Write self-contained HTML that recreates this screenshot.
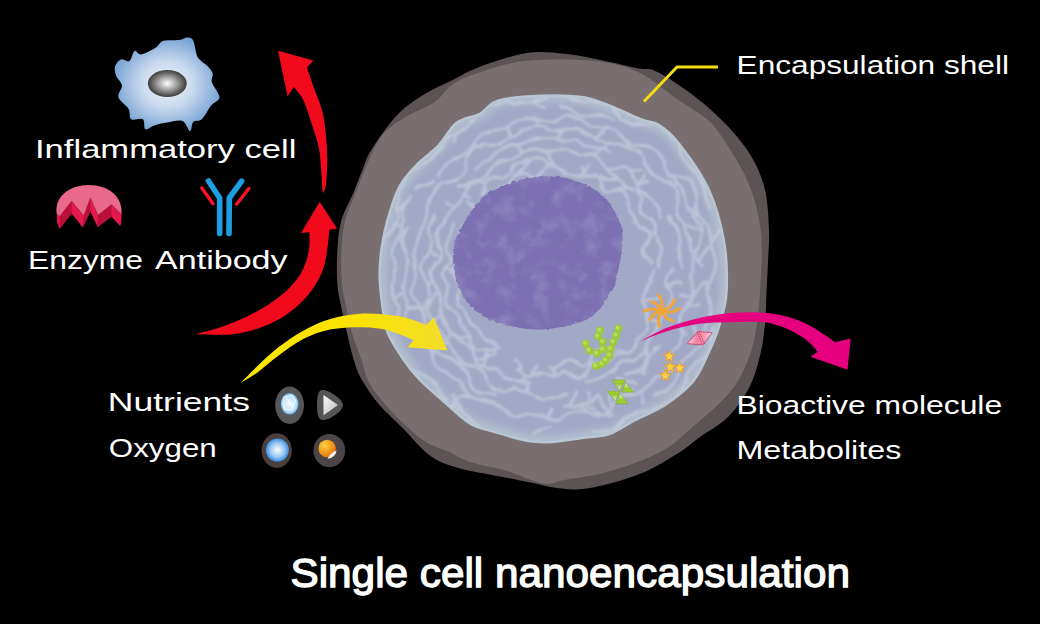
<!DOCTYPE html>
<html><head><meta charset="utf-8">
<style>
html,body{margin:0;padding:0;background:#000;}
body{width:1040px;height:624px;overflow:hidden;position:relative;}
svg{position:absolute;left:0;top:0;}
text{font-family:"Liberation Sans",sans-serif;fill:#fff;}
</style></head>
<body>
<svg width="1040" height="624" viewBox="0 0 1040 624">
<defs>
  <radialGradient id="icell" cx="0.5" cy="0.5" r="0.55">
    <stop offset="0" stop-color="#f4f7fb"/>
    <stop offset="0.45" stop-color="#c9d9ee"/>
    <stop offset="1" stop-color="#6e9dd2"/>
  </radialGradient>
  <radialGradient id="inuc" cx="0.5" cy="0.5" r="0.5">
    <stop offset="0" stop-color="#ffffff"/>
    <stop offset="1" stop-color="#3c3c3c"/>
  </radialGradient>

  <radialGradient id="crys" cx="0.5" cy="0.5" r="0.55">
    <stop offset="0" stop-color="#f4f9fd"/>
    <stop offset="0.7" stop-color="#c0e0f8"/>
    <stop offset="1" stop-color="#2a90e2"/>
  </radialGradient>
  <linearGradient id="play" x1="0" y1="0" x2="1" y2="1">
    <stop offset="0" stop-color="#ffffff"/>
    <stop offset="1" stop-color="#b8b8b8"/>
  </linearGradient>
  <radialGradient id="oxy" cx="0.5" cy="0.5" r="0.5">
    <stop offset="0" stop-color="#ffffff"/>
    <stop offset="0.6" stop-color="#9ec8f2"/>
    <stop offset="1" stop-color="#3a8ee0"/>
  </radialGradient>
  <radialGradient id="org" cx="0.35" cy="0.3" r="0.7">
    <stop offset="0" stop-color="#ffd040"/>
    <stop offset="1" stop-color="#e8780c"/>
  </radialGradient>
  <filter id="soft" x="-5%" y="-5%" width="110%" height="110%"><feGaussianBlur stdDeviation="1"/></filter>
  <filter id="soft2" x="-10%" y="-10%" width="120%" height="120%"><feGaussianBlur stdDeviation="3"/></filter>
  <linearGradient id="ygrad" gradientUnits="userSpaceOnUse" x1="240" y1="0" x2="450" y2="0">
    <stop offset="0" stop-color="#ffe600"/>
    <stop offset="0.5" stop-color="#fbe300"/>
    <stop offset="1" stop-color="#f2dc2a"/>
  </linearGradient>
  <filter id="rough" x="-5%" y="-5%" width="110%" height="110%">
    <feTurbulence type="fractalNoise" baseFrequency="0.25" numOctaves="2" seed="3" result="n"/>
    <feDisplacementMap in="SourceGraphic" in2="n" scale="3.5" xChannelSelector="R" yChannelSelector="G"/>
  </filter>
  <filter id="mottle" x="0" y="0" width="100%" height="100%">
    <feTurbulence type="fractalNoise" baseFrequency="0.06" numOctaves="3" seed="5" result="n"/>
    <feColorMatrix in="n" type="matrix" values="0 0 0 0 0.57  0 0 0 0 0.53  0 0 0 0 0.75  0 0 0 2.2 -1.0" result="m"/>
    <feComposite in="m" in2="SourceGraphic" operator="in"/>
  </filter>
  <linearGradient id="gdn" x1="0" y1="0" x2="0" y2="1">
    <stop offset="0" stop-color="#a8d43a"/><stop offset="0.35" stop-color="#98c828"/><stop offset="1" stop-color="#eef3dc"/>
  </linearGradient>
  <linearGradient id="gup" x1="0" y1="0" x2="0" y2="1">
    <stop offset="0" stop-color="#eef3dc"/><stop offset="0.65" stop-color="#98c828"/><stop offset="1" stop-color="#a8d43a"/>
  </linearGradient>
  <filter id="vsoft" x="-5%" y="-5%" width="110%" height="110%">
    <feTurbulence type="fractalNoise" baseFrequency="0.08" numOctaves="2" seed="9" result="n"/>
    <feDisplacementMap in="SourceGraphic" in2="n" scale="6" xChannelSelector="R" yChannelSelector="G" result="d"/>
    <feGaussianBlur in="d" stdDeviation="0.9"/>
  </filter>
  <linearGradient id="dia" x1="0" y1="0" x2="1" y2="0">
    <stop offset="0" stop-color="#fbd0dc"/><stop offset="0.4" stop-color="#ee7f9c"/><stop offset="0.7" stop-color="#f59ab0"/><stop offset="1" stop-color="#fde0e8"/>
  </linearGradient>
</defs>

<path fill="#5c5354" d="M398.3,113.8 C407.3,104.5 416.3,99.3 425.3,93.7 C434.3,88.1 443.1,84.7 452.2,80.2 C461.3,75.7 467.5,71.2 480.0,66.7 C492.5,62.2 512.8,55.1 527.0,53.0 C541.2,50.9 552.2,52.5 565.0,53.8 C577.8,55.1 591.8,58.3 604.0,60.8 C616.2,63.2 630.2,66.9 638.5,68.5 C646.8,70.1 647.6,67.9 654.0,70.4 C660.4,73.0 668.0,77.7 677.0,83.8 C686.0,89.9 698.1,98.7 707.7,107.0 C717.3,115.3 726.9,124.8 734.6,133.8 C742.3,142.8 748.7,151.2 753.8,160.8 C758.9,170.4 762.9,180.0 765.4,191.5 C767.9,203.0 768.5,218.6 769.0,230.0 C769.5,241.4 768.5,249.7 768.1,260.0 C767.7,270.3 767.0,281.3 766.5,292.0 C766.0,302.7 766.1,313.3 765.0,324.0 C763.9,334.7 762.7,345.3 760.0,356.0 C757.3,366.7 754.3,377.8 749.0,388.0 C743.7,398.2 736.2,408.8 728.0,417.0 C719.8,425.2 708.0,431.2 700.0,437.0 C692.0,442.8 689.2,446.2 680.0,452.0 C670.8,457.8 656.3,466.8 644.6,472.0 C632.9,477.2 620.8,480.6 610.0,483.5 C599.2,486.4 588.8,488.4 580.0,489.2 C571.2,489.9 565.5,489.1 557.0,488.0 C548.5,486.9 539.6,484.4 529.2,482.3 C518.8,480.2 506.1,477.7 494.6,475.4 C483.1,473.1 470.6,471.7 460.0,468.5 C449.4,465.3 440.2,462.8 430.8,456.2 C421.4,449.6 412.5,437.9 403.8,429.2 C395.1,420.5 385.9,412.5 378.8,404.2 C371.8,395.9 365.7,386.6 361.5,379.2 C357.3,371.8 356.2,367.7 353.8,360.0 C351.4,352.3 349.1,342.0 347.0,333.0 C344.9,324.0 342.6,314.3 341.0,306.0 C339.4,297.7 337.9,292.0 337.3,283.0 C336.7,274.0 336.7,262.2 337.3,252.0 C337.9,241.8 338.3,231.4 341.0,221.5 C343.7,211.6 349.9,201.0 353.5,192.4 C357.1,183.8 359.4,177.1 362.4,170.0 C365.4,162.9 365.4,159.1 371.4,149.7 C377.4,140.3 389.3,123.1 398.3,113.8 Z"/>
<path fill="#7a6f70" d="M407.3,116.0 C415.5,111.1 426.7,107.8 434.2,102.6 C441.7,97.4 444.6,89.8 452.2,84.7 C459.8,79.7 467.5,76.3 480.0,72.3 C492.5,68.3 508.3,62.7 527.0,60.8 C545.7,58.9 573.4,58.9 592.0,60.8 C610.6,62.7 624.3,65.9 638.5,72.3 C652.7,78.7 666.1,91.5 677.0,99.0 C687.9,106.5 697.3,111.8 704.0,117.0 C710.7,122.2 711.7,123.0 717.0,130.0 C722.3,137.0 730.7,149.9 736.0,159.0 C741.3,168.1 745.2,175.0 749.0,184.6 C752.8,194.2 756.5,205.8 758.6,216.7 C760.7,227.6 761.6,237.4 761.8,250.0 C762.0,262.6 760.8,279.7 760.0,292.0 C759.2,304.3 758.6,313.8 757.0,324.0 C755.4,334.2 753.7,343.4 750.5,353.0 C747.3,362.6 743.0,373.3 737.7,381.8 C732.4,390.3 726.0,396.7 718.5,404.2 C711.0,411.7 701.3,419.4 692.8,426.7 C684.3,433.9 677.7,441.5 667.7,447.7 C657.7,453.9 644.5,459.4 633.0,463.8 C621.5,468.2 610.0,471.5 598.5,474.2 C587.0,476.9 573.1,478.4 563.9,480.0 C554.6,481.6 552.6,485.0 543.0,483.5 C533.4,482.0 518.4,474.4 506.2,470.8 C494.0,467.2 479.4,465.1 470.0,462.0 C460.6,458.9 457.2,455.5 450.0,452.3 C442.8,449.1 433.9,446.9 426.9,442.7 C419.8,438.5 414.4,433.4 407.7,427.3 C401.0,421.2 392.9,413.4 386.5,406.0 C380.1,398.6 373.4,390.7 369.2,383.0 C365.0,375.3 364.4,368.3 361.5,360.0 C358.6,351.7 354.6,342.0 352.0,333.0 C349.4,324.0 347.7,314.3 346.0,306.0 C344.3,297.7 342.8,292.0 342.0,283.0 C341.2,274.0 341.0,262.2 341.5,252.0 C342.0,241.8 342.6,231.4 345.0,221.5 C347.4,211.6 352.4,201.0 355.7,192.4 C359.0,183.8 361.7,177.1 364.7,170.0 C367.7,162.9 370.3,156.1 373.7,149.7 C377.1,143.3 379.3,137.4 384.9,131.8 C390.5,126.2 399.1,120.9 407.3,116.0 Z"/>
<clipPath id="cclip"><path d="M393.8,200.0 C397.0,190.7 398.7,187.3 402.8,181.2 C406.9,175.1 412.5,169.2 418.5,163.2 C424.5,157.2 432.3,152.0 438.7,145.3 C445.1,138.6 449.8,128.1 456.7,122.8 C463.6,117.5 472.0,117.8 480.0,113.8 C488.0,109.8 487.7,101.8 504.6,99.0 C521.5,96.2 558.9,93.7 581.5,97.0 C604.1,100.3 627.1,114.3 640.0,119.0 C652.9,123.7 652.6,121.0 659.0,125.0 C665.4,129.0 670.2,132.3 678.5,143.0 C686.8,153.7 700.9,172.6 708.5,189.0 C716.1,205.4 721.0,224.3 724.0,241.5 C727.0,258.7 727.2,278.1 726.5,292.0 C725.8,305.9 722.5,314.8 719.5,325.0 C716.5,335.2 713.0,343.5 708.5,353.0 C704.0,362.5 700.0,373.1 692.8,381.8 C685.5,390.5 674.6,398.6 665.0,405.0 C655.4,411.4 644.6,415.2 635.4,420.0 C626.2,424.8 618.1,430.9 610.0,433.8 C601.9,436.7 596.6,435.9 587.0,437.3 C577.4,438.7 562.3,441.4 552.3,442.0 C542.3,442.6 536.4,442.4 527.0,440.8 C517.6,439.2 505.2,435.1 495.7,432.2 C486.2,429.3 479.2,429.1 470.0,423.5 C460.8,417.9 448.9,405.9 440.4,398.5 C431.9,391.1 425.3,385.6 419.2,379.2 C413.1,372.8 409.0,367.6 403.8,360.0 C398.6,352.4 391.4,341.2 388.0,333.5 C384.6,325.8 384.9,323.8 383.5,314.0 C382.1,304.2 379.6,287.8 379.6,275.0 C379.6,262.2 381.1,249.5 383.5,237.0 C385.9,224.5 390.6,209.3 393.8,200.0 Z"/></clipPath>
<path fill="#a2a9c7" d="M393.8,200.0 C397.0,190.7 398.7,187.3 402.8,181.2 C406.9,175.1 412.5,169.2 418.5,163.2 C424.5,157.2 432.3,152.0 438.7,145.3 C445.1,138.6 449.8,128.1 456.7,122.8 C463.6,117.5 472.0,117.8 480.0,113.8 C488.0,109.8 487.7,101.8 504.6,99.0 C521.5,96.2 558.9,93.7 581.5,97.0 C604.1,100.3 627.1,114.3 640.0,119.0 C652.9,123.7 652.6,121.0 659.0,125.0 C665.4,129.0 670.2,132.3 678.5,143.0 C686.8,153.7 700.9,172.6 708.5,189.0 C716.1,205.4 721.0,224.3 724.0,241.5 C727.0,258.7 727.2,278.1 726.5,292.0 C725.8,305.9 722.5,314.8 719.5,325.0 C716.5,335.2 713.0,343.5 708.5,353.0 C704.0,362.5 700.0,373.1 692.8,381.8 C685.5,390.5 674.6,398.6 665.0,405.0 C655.4,411.4 644.6,415.2 635.4,420.0 C626.2,424.8 618.1,430.9 610.0,433.8 C601.9,436.7 596.6,435.9 587.0,437.3 C577.4,438.7 562.3,441.4 552.3,442.0 C542.3,442.6 536.4,442.4 527.0,440.8 C517.6,439.2 505.2,435.1 495.7,432.2 C486.2,429.3 479.2,429.1 470.0,423.5 C460.8,417.9 448.9,405.9 440.4,398.5 C431.9,391.1 425.3,385.6 419.2,379.2 C413.1,372.8 409.0,367.6 403.8,360.0 C398.6,352.4 391.4,341.2 388.0,333.5 C384.6,325.8 384.9,323.8 383.5,314.0 C382.1,304.2 379.6,287.8 379.6,275.0 C379.6,262.2 381.1,249.5 383.5,237.0 C385.9,224.5 390.6,209.3 393.8,200.0 Z"/>
<path clip-path="url(#cclip)" fill="none" stroke="#b8c4d0" stroke-opacity="0.7" stroke-width="14" filter="url(#soft2)" d="M393.8,200.0 C397.0,190.7 398.7,187.3 402.8,181.2 C406.9,175.1 412.5,169.2 418.5,163.2 C424.5,157.2 432.3,152.0 438.7,145.3 C445.1,138.6 449.8,128.1 456.7,122.8 C463.6,117.5 472.0,117.8 480.0,113.8 C488.0,109.8 487.7,101.8 504.6,99.0 C521.5,96.2 558.9,93.7 581.5,97.0 C604.1,100.3 627.1,114.3 640.0,119.0 C652.9,123.7 652.6,121.0 659.0,125.0 C665.4,129.0 670.2,132.3 678.5,143.0 C686.8,153.7 700.9,172.6 708.5,189.0 C716.1,205.4 721.0,224.3 724.0,241.5 C727.0,258.7 727.2,278.1 726.5,292.0 C725.8,305.9 722.5,314.8 719.5,325.0 C716.5,335.2 713.0,343.5 708.5,353.0 C704.0,362.5 700.0,373.1 692.8,381.8 C685.5,390.5 674.6,398.6 665.0,405.0 C655.4,411.4 644.6,415.2 635.4,420.0 C626.2,424.8 618.1,430.9 610.0,433.8 C601.9,436.7 596.6,435.9 587.0,437.3 C577.4,438.7 562.3,441.4 552.3,442.0 C542.3,442.6 536.4,442.4 527.0,440.8 C517.6,439.2 505.2,435.1 495.7,432.2 C486.2,429.3 479.2,429.1 470.0,423.5 C460.8,417.9 448.9,405.9 440.4,398.5 C431.9,391.1 425.3,385.6 419.2,379.2 C413.1,372.8 409.0,367.6 403.8,360.0 C398.6,352.4 391.4,341.2 388.0,333.5 C384.6,325.8 384.9,323.8 383.5,314.0 C382.1,304.2 379.6,287.8 379.6,275.0 C379.6,262.2 381.1,249.5 383.5,237.0 C385.9,224.5 390.6,209.3 393.8,200.0 Z"/>
<path clip-path="url(#cclip)" fill="none" stroke="#d4dce6" stroke-opacity="0.5" stroke-width="3" filter="url(#vsoft)" d="M654.7,268.0 C654.6,268.7 654.4,270.7 654.0,272.0 C653.6,273.3 652.9,274.6 652.4,275.8 C651.9,277.1 651.4,278.3 650.9,279.6 C650.4,280.8 650.1,282.1 649.6,283.3 C649.1,284.5 648.5,285.7 647.9,286.9 C647.3,288.0 646.5,289.2 645.9,290.3 C645.2,291.4 644.4,292.5 644.0,293.7 C643.6,294.8 643.3,296.0 643.4,297.4 C643.4,298.7 643.9,300.2 644.4,301.7 C644.9,303.3 646.1,305.9 646.4,306.7 M611.4,348.4 C610.7,348.5 608.8,349.3 607.5,349.5 C606.1,349.8 604.6,349.8 603.1,349.8 C601.7,349.9 600.1,349.6 598.8,349.8 C597.5,350.0 596.3,350.3 595.3,351.1 C594.3,351.8 593.6,353.0 592.8,354.3 C592.0,355.6 591.4,357.4 590.7,359.0 C589.9,360.5 589.2,362.4 588.2,363.5 C587.2,364.6 586.1,365.5 584.8,365.8 C583.5,366.0 581.9,365.6 580.4,365.0 C578.8,364.5 577.2,363.3 575.7,362.4 C574.2,361.6 572.7,360.5 571.3,360.0 C570.0,359.6 568.8,359.6 567.6,359.9 C566.4,360.2 565.3,361.0 564.1,361.8 C562.9,362.5 561.8,363.7 560.6,364.4 C559.4,365.2 558.1,366.0 556.9,366.4 C555.6,366.8 554.3,366.8 553.0,366.8 C551.7,366.8 549.8,366.3 549.1,366.2 M497.2,344.7 C496.6,344.5 494.9,343.8 493.6,343.4 C492.3,342.9 490.9,342.6 489.7,342.1 C488.5,341.6 487.2,341.1 486.2,340.3 C485.2,339.5 484.4,338.4 483.7,337.3 C483.0,336.2 482.6,334.8 481.9,333.7 C481.3,332.6 480.7,331.4 479.9,330.4 C479.1,329.5 478.1,328.7 477.0,327.9 C476.0,327.1 474.7,326.5 473.6,325.7 C472.5,324.9 471.4,324.1 470.5,323.1 C469.7,322.1 469.1,320.9 468.5,319.8 C468.0,318.6 467.8,317.2 467.4,315.9 C467.1,314.7 466.8,313.3 466.3,312.2 C465.7,311.0 464.5,309.5 464.2,309.0 M464.2,309.0 C463.6,308.5 462.0,307.1 461.0,306.1 C460.1,305.1 459.0,304.1 458.3,302.9 C457.6,301.8 457.2,300.5 457.1,299.2 C457.0,297.8 457.4,296.3 457.7,294.9 C458.0,293.4 458.7,291.9 459.1,290.6 C459.4,289.2 459.8,287.8 459.7,286.6 C459.6,285.3 459.2,284.1 458.6,283.0 C458.0,281.8 456.8,280.7 456.0,279.5 C455.2,278.3 454.1,277.1 453.5,275.8 C453.0,274.6 452.6,273.2 452.7,271.9 C452.8,270.6 453.4,269.3 454.0,268.0 C454.6,266.7 455.7,265.4 456.5,264.2 C457.3,263.0 458.1,261.8 458.6,260.6 C459.0,259.4 459.2,258.2 459.2,256.9 C459.3,255.7 458.8,253.7 458.8,253.1 M458.8,253.1 C458.7,252.4 458.3,250.4 458.2,249.1 C458.2,247.9 458.3,246.6 458.5,245.3 C458.8,244.1 459.3,242.9 459.7,241.7 C460.2,240.5 460.8,239.4 461.1,238.1 C461.4,236.9 461.7,235.7 461.8,234.4 C462.0,233.1 461.9,231.7 462.1,230.3 C462.2,229.0 462.3,227.6 462.8,226.4 C463.3,225.2 464.0,224.1 465.0,223.2 C466.0,222.2 467.3,221.5 468.7,220.8 C470.0,220.1 471.8,219.7 473.1,219.0 C474.4,218.4 475.6,217.8 476.5,216.9 C477.3,215.9 477.6,214.8 477.9,213.4 C478.1,212.1 477.9,210.4 478.0,208.9 C478.0,207.3 477.9,205.5 478.2,204.2 C478.6,202.8 479.8,201.2 480.1,200.6 M480.1,200.6 C480.7,200.3 482.5,199.3 483.9,198.9 C485.3,198.5 487.3,198.7 488.7,198.4 C490.1,198.2 491.4,197.8 492.6,197.2 C493.7,196.7 494.7,196.0 495.5,195.1 C496.3,194.2 497.0,193.0 497.6,191.8 C498.3,190.7 498.8,189.1 499.6,188.1 C500.5,187.1 501.6,186.5 502.7,185.9 C503.7,185.2 504.9,184.7 506.0,184.1 C507.1,183.5 508.3,183.1 509.4,182.4 C510.4,181.6 511.4,180.8 512.3,179.8 C513.3,178.7 514.0,177.2 514.9,176.1 C515.9,175.0 516.9,173.9 518.1,173.3 C519.3,172.7 520.6,172.5 522.0,172.5 C523.4,172.6 525.7,173.5 526.4,173.7 M526.4,173.7 C527.2,174.2 529.6,175.7 531.0,176.3 C532.4,176.9 533.7,177.4 535.0,177.3 C536.2,177.2 537.3,176.6 538.4,175.6 C539.5,174.7 540.5,173.1 541.6,171.7 C542.7,170.4 543.9,168.6 545.1,167.5 C546.3,166.4 548.3,165.6 549.0,165.2 M549.0,165.2 C549.6,165.3 551.7,165.2 553.0,165.7 C554.3,166.2 555.6,167.4 556.9,168.3 C558.2,169.3 559.4,170.6 560.6,171.5 C561.8,172.4 563.0,173.1 564.2,173.7 C565.4,174.3 566.5,174.5 567.8,174.8 C569.0,175.1 570.2,175.1 571.4,175.3 C572.7,175.5 573.9,175.7 575.1,175.9 C576.4,176.1 577.6,176.3 578.8,176.4 C580.1,176.5 582.1,176.5 582.7,176.5 M582.7,176.5 C583.4,176.4 585.5,176.0 587.0,175.8 C588.5,175.5 590.1,175.0 591.5,175.0 C593.0,174.9 594.5,174.9 595.7,175.4 C596.9,175.9 598.0,176.9 598.8,178.2 C599.6,179.5 600.0,181.5 600.5,183.2 C601.0,184.8 601.3,186.8 601.9,188.2 C602.5,189.6 603.1,190.8 604.1,191.5 C605.1,192.2 606.5,192.3 608.0,192.3 C609.5,192.4 611.3,192.0 613.1,191.8 C614.9,191.6 616.9,191.1 618.7,191.1 C620.4,191.1 622.2,191.1 623.6,191.7 C624.9,192.2 625.9,193.2 626.7,194.3 C627.5,195.4 627.8,197.0 628.2,198.5 C628.6,200.0 628.6,201.7 628.9,203.2 C629.2,204.7 629.4,206.1 629.8,207.5 C630.2,208.8 630.6,210.0 631.1,211.3 C631.6,212.5 632.1,213.6 632.6,214.8 C633.1,216.0 633.7,217.8 634.0,218.4 M634.0,218.4 C634.2,218.9 634.9,220.7 635.6,221.8 C636.2,222.8 637.0,223.8 638.1,224.7 C639.1,225.5 640.5,226.2 641.9,227.0 C643.3,227.8 645.1,228.4 646.4,229.3 C647.7,230.2 649.1,231.1 649.8,232.3 C650.5,233.4 650.9,234.8 650.7,236.3 C650.4,237.7 649.5,239.4 648.6,241.0 C647.7,242.6 646.1,244.4 645.1,245.9 C644.1,247.4 642.9,248.9 642.5,250.2 C642.1,251.5 642.1,252.7 642.6,253.8 C643.2,254.9 644.5,255.9 645.8,257.0 C647.0,258.1 648.8,259.2 650.1,260.4 C651.4,261.5 652.9,263.4 653.5,264.1 M649.2,312.4 C648.9,313.0 647.6,314.6 647.2,316.0 C646.8,317.4 647.0,319.0 647.0,320.6 C647.0,322.2 647.2,324.1 647.0,325.6 C646.8,327.2 646.4,328.7 645.7,329.9 C645.0,331.2 643.9,332.2 642.9,333.3 C641.9,334.4 640.7,335.3 639.8,336.4 C638.8,337.5 637.9,338.6 637.2,339.9 C636.4,341.1 635.9,342.6 635.2,344.0 C634.6,345.4 634.1,347.0 633.2,348.2 C632.3,349.4 631.3,350.5 630.0,351.3 C628.7,352.1 627.1,352.5 625.5,352.9 C623.9,353.2 622.0,353.3 620.5,353.6 C618.9,353.9 617.4,354.2 616.1,354.8 C614.8,355.4 613.2,356.8 612.6,357.2 M612.6,357.2 C612.1,357.7 610.6,359.3 609.5,360.2 C608.3,361.0 607.1,361.7 605.7,362.2 C604.4,362.7 602.9,362.8 601.4,363.0 C599.9,363.2 598.3,363.0 596.9,363.2 C595.5,363.4 594.1,363.6 592.9,364.4 C591.7,365.1 590.8,366.4 589.8,367.8 C588.8,369.1 587.4,371.7 587.0,372.5 M587.0,372.5 C586.4,373.2 584.8,375.6 583.6,376.4 C582.3,377.3 580.9,377.8 579.3,377.7 C577.8,377.7 576.1,376.8 574.5,376.1 C572.9,375.5 571.3,374.4 569.7,373.7 C568.2,373.1 566.7,372.4 565.3,372.2 C563.9,372.0 562.6,372.3 561.2,372.6 C559.9,373.0 557.9,374.0 557.2,374.3 M557.2,374.3 C556.5,374.5 554.4,375.3 553.0,375.5 C551.6,375.6 550.2,375.4 548.8,375.2 C547.4,375.0 546.0,374.3 544.7,374.1 C543.3,373.8 541.9,373.5 540.5,373.6 C539.1,373.6 537.6,374.1 536.1,374.4 C534.6,374.8 533.1,375.6 531.5,375.9 C530.0,376.2 528.4,376.5 527.0,376.3 C525.6,376.1 524.2,375.5 522.9,374.7 C521.6,373.9 520.6,372.4 519.4,371.4 C518.3,370.3 516.6,368.8 516.0,368.3 M495.0,354.8 C494.6,354.3 493.5,352.2 492.3,351.5 C491.2,350.8 489.7,350.6 488.1,350.3 C486.5,350.1 484.6,350.3 482.8,350.2 C481.0,350.1 479.0,350.2 477.5,349.7 C476.0,349.1 474.8,348.2 473.9,347.1 C473.0,346.0 472.3,343.6 472.0,342.8 M472.0,342.8 C471.8,342.1 471.3,339.6 470.8,338.2 C470.3,336.8 469.7,335.5 468.9,334.3 C468.1,333.1 467.0,332.2 466.0,331.2 C465.1,330.1 463.9,329.2 463.0,328.1 C462.2,327.0 461.5,325.7 460.9,324.4 C460.4,323.1 459.9,320.9 459.7,320.2 M459.7,320.2 C459.5,319.6 459.1,317.4 458.5,316.2 C457.8,314.9 457.0,313.8 455.8,312.8 C454.7,311.8 453.0,311.0 451.6,310.0 C450.3,309.0 448.7,308.0 447.7,306.9 C446.7,305.7 445.9,304.3 445.6,302.9 C445.3,301.5 445.6,299.8 445.9,298.2 C446.1,296.6 446.9,294.9 447.3,293.4 C447.6,291.8 448.0,290.3 448.0,288.9 C447.9,287.5 447.4,286.2 446.8,284.8 C446.2,283.5 445.1,282.2 444.5,280.8 C443.9,279.5 443.1,278.1 443.1,276.7 C443.0,275.2 443.4,273.7 444.1,272.3 C444.7,270.8 446.0,269.4 447.0,268.0 C448.0,266.6 449.3,265.3 449.9,263.9 C450.5,262.6 450.8,261.3 450.7,259.9 C450.6,258.6 449.8,257.2 449.1,255.7 C448.4,254.2 447.0,251.9 446.6,251.1 M446.6,251.1 C446.3,250.4 445.3,248.0 445.2,246.6 C445.1,245.1 445.4,243.7 445.9,242.3 C446.4,240.9 447.4,239.7 448.2,238.4 C448.9,237.2 449.8,236.0 450.4,234.7 C451.0,233.3 451.3,232.0 451.7,230.6 C452.1,229.3 452.2,227.8 452.7,226.5 C453.2,225.1 454.3,223.3 454.7,222.7 M479.6,194.6 C480.2,194.3 482.4,193.6 483.3,192.6 C484.1,191.5 484.3,189.7 484.8,188.1 C485.2,186.5 485.4,184.6 486.0,183.1 C486.7,181.6 487.4,180.1 488.4,179.1 C489.5,178.1 490.7,177.4 492.3,177.2 C493.9,176.9 496.0,177.6 497.7,177.8 C499.5,178.0 501.2,178.4 502.7,178.2 C504.2,178.1 505.4,177.6 506.6,176.9 C507.7,176.1 508.5,174.8 509.4,173.5 C510.3,172.2 511.6,169.7 512.0,169.0 M512.0,169.0 C512.5,168.4 514.1,166.5 515.2,165.7 C516.4,164.8 517.8,164.3 519.1,163.8 C520.5,163.2 521.8,162.8 523.2,162.4 C524.6,161.9 526.0,161.6 527.3,161.0 C528.7,160.5 530.0,159.6 531.3,159.0 C532.7,158.4 534.1,157.8 535.5,157.7 C537.0,157.6 538.5,157.8 540.0,158.4 C541.5,158.9 543.1,160.1 544.6,161.0 C546.1,161.9 547.5,163.3 548.9,163.9 C550.3,164.6 552.3,164.7 553.0,164.9 M600.8,174.2 C601.3,174.8 602.5,176.8 603.7,177.5 C604.8,178.2 606.3,178.4 607.8,178.6 C609.3,178.8 611.2,178.4 612.8,178.5 C614.5,178.5 616.3,178.5 617.7,179.0 C619.1,179.5 620.1,180.5 621.2,181.5 C622.3,182.5 623.0,183.8 624.1,184.8 C625.1,185.8 626.8,187.1 627.4,187.5 M627.4,187.5 C628.1,187.8 630.2,188.7 631.7,189.3 C633.1,189.9 634.9,190.3 636.2,191.1 C637.6,191.8 638.9,192.7 639.7,194.0 C640.4,195.2 640.8,196.9 640.9,198.7 C641.1,200.4 640.6,202.6 640.5,204.5 C640.3,206.3 639.9,208.3 640.0,209.9 C640.2,211.4 640.6,212.7 641.4,213.8 C642.3,214.9 643.7,215.6 645.0,216.5 C646.4,217.3 648.2,217.9 649.4,218.9 C650.7,219.8 652.0,220.8 652.8,222.0 C653.5,223.2 653.8,224.7 654.0,226.2 C654.2,227.6 653.9,229.3 654.0,230.7 C654.1,232.2 654.1,233.7 654.5,235.0 C654.9,236.4 655.7,237.6 656.5,238.8 C657.3,240.1 658.5,241.2 659.4,242.5 C660.2,243.7 661.0,245.0 661.4,246.4 C661.7,247.8 661.4,250.1 661.3,250.8 M661.3,250.8 C661.1,251.6 660.4,253.9 659.9,255.3 C659.4,256.8 658.7,258.3 658.5,259.7 C658.2,261.1 658.2,262.5 658.4,263.9 C658.6,265.2 659.5,267.3 659.7,268.0 M673.6,268.0 C673.0,268.8 671.3,271.1 670.3,272.6 C669.2,274.1 668.1,275.5 667.4,277.0 C666.8,278.5 666.5,279.9 666.5,281.4 C666.4,282.9 666.9,284.5 667.4,286.1 C667.9,287.7 668.8,289.5 669.4,291.1 C670.0,292.8 670.7,294.6 670.9,296.3 C671.2,298.0 671.2,299.7 670.9,301.3 C670.7,302.8 670.0,304.3 669.3,305.8 C668.6,307.2 667.2,309.3 666.8,310.0 M666.8,310.0 C666.3,310.6 664.9,312.7 664.1,314.0 C663.3,315.4 662.5,316.8 661.8,318.2 C661.1,319.6 660.5,321.0 659.8,322.4 C659.1,323.8 658.4,325.2 657.6,326.6 C656.8,327.9 656.0,329.3 655.2,330.6 C654.3,331.9 653.4,333.2 652.5,334.5 C651.7,335.8 650.8,337.1 650.1,338.6 C649.4,340.0 649.0,341.6 648.4,343.2 C647.8,344.8 647.3,346.4 646.7,348.0 C646.0,349.5 645.3,351.2 644.5,352.5 C643.6,353.9 642.6,355.3 641.3,356.3 C640.0,357.3 638.4,358.1 636.8,358.7 C635.2,359.2 633.2,359.5 631.4,359.8 C629.6,360.1 627.6,360.2 625.9,360.5 C624.2,360.8 622.6,361.2 621.2,361.8 C619.8,362.5 618.6,363.4 617.5,364.5 C616.3,365.6 615.5,367.0 614.4,368.3 C613.4,369.5 611.8,371.5 611.3,372.1 M611.3,372.1 C610.7,372.6 609.0,374.5 607.7,375.4 C606.4,376.3 604.9,376.9 603.4,377.4 C601.9,377.8 600.2,377.9 598.6,378.1 C597.0,378.3 595.3,378.3 593.8,378.5 C592.2,378.8 590.7,379.0 589.2,379.4 C587.7,379.8 585.6,380.7 584.8,380.9 M530.0,383.7 C529.2,383.6 527.0,382.9 525.5,382.6 C524.0,382.3 522.4,382.3 520.8,382.1 C519.2,382.0 517.6,382.0 516.0,381.7 C514.5,381.5 512.9,381.3 511.4,380.8 C509.9,380.3 508.5,379.6 507.1,378.7 C505.8,377.9 504.6,376.7 503.4,375.6 C502.2,374.5 501.1,373.3 499.9,372.3 C498.6,371.3 497.5,370.3 496.1,369.6 C494.8,368.8 493.3,368.3 491.8,367.9 C490.2,367.5 488.4,367.4 486.8,367.1 C485.1,366.8 483.3,366.7 481.7,366.1 C480.2,365.5 478.7,364.8 477.6,363.7 C476.4,362.6 475.6,361.0 474.8,359.5 C474.0,358.0 473.5,356.3 472.9,354.7 C472.3,353.0 471.5,350.5 471.3,349.7 M471.3,349.7 C470.9,349.0 470.0,346.8 469.0,345.6 C468.1,344.4 466.9,343.5 465.6,342.6 C464.3,341.7 462.8,341.1 461.3,340.3 C459.8,339.5 458.1,338.8 456.7,337.9 C455.3,337.1 453.9,336.1 452.8,335.0 C451.6,333.9 450.6,332.6 449.7,331.3 C448.8,330.0 447.7,327.9 447.3,327.2 M447.3,327.2 C446.9,326.5 445.8,324.4 445.1,323.0 C444.3,321.6 443.6,320.2 442.9,318.8 C442.2,317.3 441.4,316.0 440.9,314.4 C440.4,312.9 440.1,311.3 440.0,309.7 C439.9,308.1 440.0,306.3 440.2,304.7 C440.3,303.0 440.6,301.3 440.6,299.7 C440.7,298.1 440.7,296.5 440.4,295.0 C440.1,293.5 439.1,291.4 438.8,290.7 M438.8,290.7 C438.3,290.0 436.9,288.0 435.8,286.6 C434.8,285.1 433.4,283.7 432.5,282.3 C431.6,280.8 430.7,279.2 430.4,277.7 C430.0,276.1 430.1,274.4 430.5,272.8 C431.0,271.2 432.0,269.6 433.0,268.0 C434.0,266.4 435.5,264.9 436.6,263.4 C437.8,261.9 439.1,260.5 439.8,259.1 C440.5,257.6 441.0,256.2 441.1,254.8 C441.2,253.3 440.9,251.8 440.5,250.2 C440.0,248.6 438.9,246.1 438.6,245.3 M438.6,245.3 C438.4,244.4 437.4,241.8 437.1,240.2 C436.9,238.5 436.8,236.9 437.1,235.3 C437.3,233.8 438.0,232.3 438.7,230.9 C439.4,229.4 440.4,228.1 441.3,226.8 C442.2,225.5 443.2,224.2 444.0,222.9 C444.9,221.5 445.6,220.2 446.4,218.8 C447.1,217.5 447.7,216.1 448.5,214.7 C449.2,213.4 449.9,212.0 450.8,210.7 C451.6,209.5 452.7,208.3 453.8,207.2 C454.9,206.1 456.1,205.1 457.2,204.0 C458.3,202.9 459.4,201.9 460.3,200.7 C461.3,199.5 462.0,198.2 462.7,196.9 C463.5,195.5 464.0,193.9 464.6,192.5 C465.3,191.1 465.8,189.5 466.7,188.2 C467.5,186.9 469.2,185.2 469.7,184.7 M469.7,184.7 C470.4,184.3 472.5,183.1 473.9,182.4 C475.3,181.7 476.7,180.9 478.1,180.3 C479.5,179.6 481.1,179.2 482.4,178.5 C483.8,177.8 485.0,177.0 486.1,175.9 C487.2,174.8 487.9,173.3 488.8,172.0 C489.8,170.7 490.8,169.4 491.8,168.2 C492.8,166.9 493.8,165.5 495.0,164.4 C496.2,163.4 497.5,162.4 498.9,161.8 C500.3,161.1 501.9,160.8 503.4,160.4 C504.9,160.0 507.2,159.5 508.0,159.3 M508.0,159.3 C508.8,159.2 511.1,158.9 512.6,158.5 C514.1,158.0 515.5,157.5 516.9,156.8 C518.2,156.0 519.5,154.9 520.9,154.1 C522.2,153.2 523.6,152.4 525.1,151.7 C526.5,151.0 528.0,150.2 529.5,149.8 C531.0,149.4 532.6,149.2 534.2,149.1 C535.8,149.1 538.2,149.5 539.0,149.6 M539.0,149.6 C539.8,149.7 542.2,150.2 543.7,150.4 C545.3,150.6 546.9,150.8 548.4,150.8 C549.9,150.8 551.5,150.6 553.0,150.4 C554.5,150.2 556.1,149.8 557.7,149.6 C559.2,149.4 560.8,149.2 562.3,149.3 C563.9,149.4 565.5,149.6 567.0,149.9 C568.5,150.3 570.0,150.9 571.5,151.5 C572.9,152.0 574.4,152.6 575.9,153.1 C577.3,153.5 578.8,153.9 580.3,154.2 C581.8,154.4 583.4,154.5 585.0,154.6 C586.6,154.7 588.2,154.7 589.7,154.9 C591.3,155.1 592.9,155.4 594.3,156.0 C595.7,156.6 597.1,157.5 598.4,158.5 C599.6,159.5 600.7,160.8 601.9,162.0 C603.0,163.2 604.6,165.1 605.1,165.7 M605.1,165.7 C605.7,166.2 607.4,167.8 608.8,168.4 C610.2,169.0 611.8,169.1 613.6,169.0 C615.4,169.0 617.6,168.5 619.6,168.3 C621.6,168.1 623.9,167.6 625.7,167.9 C627.5,168.1 629.1,168.8 630.4,169.8 C631.7,170.8 632.9,173.1 633.4,173.8 M633.4,173.8 C633.8,174.7 634.7,177.3 635.3,179.0 C635.8,180.8 636.1,182.7 636.7,184.3 C637.2,186.0 637.8,187.5 638.6,188.8 C639.5,190.2 640.5,191.2 641.7,192.2 C642.9,193.2 644.4,194.0 645.7,194.9 C647.1,195.8 648.6,196.6 649.9,197.6 C651.2,198.6 652.5,199.6 653.5,200.8 C654.6,202.0 655.4,203.4 656.2,204.8 C656.9,206.2 657.5,207.7 658.1,209.1 C658.7,210.6 659.2,212.1 659.8,213.6 C660.4,215.1 661.2,217.2 661.5,218.0 M659.7,345.5 C659.1,346.1 657.1,347.9 655.8,349.1 C654.6,350.3 653.3,351.4 652.1,352.7 C651.0,354.0 650.0,355.3 649.1,356.8 C648.2,358.3 647.5,360.0 646.6,361.6 C645.8,363.3 645.1,365.0 644.0,366.5 C643.0,367.9 641.9,369.4 640.5,370.4 C639.1,371.5 637.4,372.2 635.6,372.8 C633.8,373.3 631.7,373.5 629.8,373.7 C627.8,373.9 624.8,374.0 623.8,374.0 M567.9,394.1 C567.1,394.3 564.7,394.9 563.0,395.2 C561.4,395.6 559.7,396.0 558.0,396.3 C556.4,396.7 554.7,397.0 553.0,397.4 C551.3,397.7 549.6,398.1 547.9,398.3 C546.2,398.5 544.4,398.8 542.7,398.8 C541.0,398.7 539.3,398.6 537.6,398.2 C535.9,397.9 534.2,397.2 532.7,396.5 C531.1,395.7 529.5,394.6 528.0,393.6 C526.5,392.6 525.1,391.5 523.5,390.7 C522.0,389.9 520.5,389.2 518.9,388.8 C517.3,388.4 515.7,388.3 513.9,388.3 C512.2,388.3 510.3,388.8 508.3,389.0 C506.4,389.3 504.4,389.9 502.5,389.9 C500.6,390.0 498.7,390.0 497.0,389.5 C495.3,389.0 493.1,387.4 492.4,387.0 M492.4,387.0 C491.8,386.3 489.9,384.1 488.9,382.5 C487.9,380.8 487.1,378.7 486.2,377.0 C485.2,375.4 484.4,373.7 483.3,372.4 C482.2,371.0 480.9,370.0 479.5,369.1 C478.1,368.2 476.5,367.7 474.9,367.1 C473.3,366.5 470.6,365.7 469.8,365.4 M469.8,365.4 C468.9,365.1 466.2,364.4 464.6,363.6 C463.0,362.8 461.6,361.9 460.3,360.7 C459.1,359.5 458.1,358.1 457.1,356.6 C456.2,355.2 455.5,353.5 454.7,352.0 C453.9,350.4 453.2,348.8 452.3,347.3 C451.5,345.9 450.2,343.7 449.7,343.0 M449.7,343.0 C449.2,342.4 447.8,340.3 446.8,339.0 C445.7,337.7 444.6,336.4 443.6,335.1 C442.5,333.8 441.4,332.5 440.3,331.1 C439.2,329.8 438.1,328.5 437.0,327.1 C435.9,325.7 434.8,324.4 433.7,323.0 C432.6,321.6 431.4,320.2 430.5,318.7 C429.5,317.3 428.7,315.7 428.1,314.1 C427.5,312.5 427.1,310.7 426.9,309.0 C426.6,307.2 426.7,305.4 426.8,303.6 C426.9,301.8 427.4,299.0 427.5,298.1 M427.5,298.1 C427.7,297.2 428.3,294.5 428.4,292.8 C428.6,291.0 428.8,289.4 428.6,287.7 C428.4,286.1 428.0,284.5 427.4,282.9 C426.8,281.3 425.8,279.7 425.0,278.1 C424.2,276.5 423.2,274.8 422.5,273.1 C421.9,271.4 421.3,269.7 421.1,268.0 C421.0,266.3 421.2,264.5 421.8,262.8 C422.3,261.2 423.3,259.5 424.2,257.9 C425.2,256.2 426.5,254.7 427.4,253.1 C428.4,251.6 429.4,250.1 430.0,248.5 C430.6,247.0 431.0,245.4 431.1,243.7 C431.2,242.1 430.8,240.4 430.6,238.6 C430.4,236.9 429.9,235.0 429.7,233.2 C429.5,231.4 429.3,229.6 429.5,227.9 C429.7,226.1 430.0,224.5 430.6,222.9 C431.2,221.3 432.2,219.8 433.1,218.3 C434.0,216.9 435.7,214.9 436.2,214.2 M474.6,168.5 C475.3,168.1 477.4,166.8 478.8,165.8 C480.1,164.9 481.3,163.7 482.7,162.8 C484.1,161.9 485.7,161.4 487.1,160.5 C488.5,159.6 489.7,158.5 491.0,157.4 C492.4,156.3 493.6,155.1 494.9,154.0 C496.3,152.9 497.6,151.9 499.0,150.9 C500.4,149.9 501.8,148.8 503.3,148.1 C504.9,147.3 506.5,147.0 508.2,146.6 C509.9,146.2 511.6,146.1 513.3,145.8 C515.0,145.5 516.6,145.1 518.2,144.8 C519.9,144.4 521.6,144.2 523.2,143.7 C524.8,143.2 526.3,142.4 527.9,141.7 C529.5,141.0 531.0,140.2 532.7,139.5 C534.3,138.9 535.9,138.4 537.6,138.1 C539.3,137.8 541.9,137.8 542.8,137.8 M542.8,137.8 C543.6,137.9 546.2,138.2 547.9,138.5 C549.6,138.8 551.3,139.2 553.0,139.5 C554.7,139.8 556.3,140.0 558.0,140.1 C559.7,140.2 561.4,140.2 563.1,140.2 C564.7,140.2 566.4,140.1 568.1,140.2 C569.8,140.2 571.5,140.3 573.2,140.6 C574.8,140.9 576.5,141.3 578.1,141.8 C579.7,142.3 581.3,143.0 582.8,143.7 C584.4,144.3 585.9,145.0 587.5,145.6 C589.1,146.2 590.6,146.7 592.3,147.2 C593.9,147.6 595.5,147.9 597.2,148.2 C598.9,148.5 600.6,148.7 602.2,149.1 C603.9,149.5 605.6,150.0 607.1,150.6 C608.7,151.3 610.8,152.7 611.5,153.1 M668.6,214.7 C669.0,215.4 670.0,217.7 670.9,219.2 C671.7,220.6 672.8,222.0 673.8,223.4 C674.8,224.9 675.9,226.3 676.7,227.8 C677.6,229.3 678.3,230.9 678.8,232.5 C679.2,234.2 679.4,235.9 679.4,237.7 C679.4,239.4 679.0,241.2 678.8,243.0 C678.5,244.7 678.0,246.5 677.9,248.2 C677.7,249.9 677.9,252.4 678.0,253.2 M678.0,253.2 C678.2,254.0 678.6,256.4 679.2,258.1 C679.7,259.7 680.5,261.3 681.2,263.0 C681.8,264.6 682.8,267.2 683.1,268.0 M692.1,268.0 C691.9,268.9 691.4,271.6 691.3,273.4 C691.2,275.2 691.1,277.0 691.3,278.9 C691.4,280.7 691.8,282.6 692.0,284.5 C692.3,286.3 692.7,288.3 692.8,290.1 C692.9,292.0 692.9,293.9 692.6,295.8 C692.2,297.6 691.0,300.2 690.7,301.1 M690.7,301.1 C690.2,301.9 688.6,304.3 687.5,305.9 C686.4,307.5 685.0,309.0 684.0,310.6 C683.0,312.1 682.0,313.7 681.4,315.4 C680.8,317.1 680.6,318.9 680.5,320.8 C680.4,322.7 680.6,324.8 680.7,326.9 C680.8,329.0 681.1,331.2 681.1,333.2 C681.0,335.3 680.9,337.4 680.4,339.4 C680.0,341.3 679.3,343.1 678.3,344.8 C677.4,346.4 676.0,347.9 674.7,349.3 C673.4,350.7 671.0,352.5 670.2,353.2 M600.0,395.3 C599.2,395.8 597.0,397.6 595.5,398.7 C593.9,399.8 592.4,400.9 590.7,401.8 C589.1,402.7 587.4,403.6 585.7,404.2 C584.0,404.7 582.1,404.9 580.3,405.2 C578.5,405.5 576.7,405.7 574.8,405.9 C573.0,406.0 571.2,406.0 569.3,406.1 C567.5,406.2 564.8,406.4 563.9,406.5 M495.1,393.5 C494.1,393.6 490.9,393.9 488.8,393.9 C486.7,394.0 484.5,394.2 482.5,393.9 C480.5,393.5 478.6,393.0 477.0,392.1 C475.3,391.1 473.9,389.8 472.7,388.2 C471.4,386.7 470.5,384.6 469.7,382.6 C468.9,380.6 468.4,378.3 467.7,376.2 C467.0,374.1 466.6,371.9 465.7,370.2 C464.9,368.4 463.8,367.1 462.6,365.8 C461.3,364.6 459.8,363.6 458.3,362.7 C456.8,361.8 455.0,361.0 453.3,360.2 C451.6,359.4 449.7,358.6 448.0,357.7 C446.2,356.8 444.5,355.9 442.8,354.8 C441.2,353.8 439.6,352.7 438.0,351.5 C436.5,350.4 435.0,349.1 433.7,347.7 C432.3,346.4 431.0,345.0 430.0,343.4 C428.9,341.9 427.7,339.3 427.2,338.5 M427.2,338.5 C427.0,337.5 426.0,334.8 425.7,332.9 C425.4,330.9 425.4,328.9 425.3,326.9 C425.1,324.9 425.1,322.9 425.0,321.0 C424.8,319.1 424.8,317.2 424.4,315.4 C424.0,313.7 423.4,312.0 422.6,310.4 C421.7,308.8 420.5,307.3 419.4,305.7 C418.2,304.1 416.8,302.6 415.7,301.0 C414.7,299.3 413.6,297.6 413.0,295.8 C412.5,294.1 412.2,292.2 412.2,290.3 C412.2,288.4 412.6,286.5 413.0,284.6 C413.4,282.7 414.1,280.8 414.5,278.9 C414.9,277.0 415.3,275.2 415.5,273.4 C415.6,271.6 415.5,269.8 415.4,268.0 C415.2,266.2 414.7,263.5 414.6,262.6 M414.6,262.6 C414.5,261.6 414.0,258.9 413.9,257.1 C413.9,255.2 414.0,253.4 414.3,251.6 C414.6,249.8 415.1,248.0 415.7,246.3 C416.3,244.5 417.1,242.8 417.7,241.1 C418.4,239.4 419.1,237.7 419.7,236.0 C420.4,234.3 421.0,232.6 421.5,230.9 C422.1,229.2 422.6,227.5 423.2,225.8 C423.7,224.1 424.6,221.6 424.9,220.7 M424.9,220.7 C425.2,219.9 426.1,217.4 426.6,215.6 C427.2,213.9 427.7,212.2 428.2,210.5 C428.7,208.7 429.0,206.9 429.4,205.0 C429.7,203.1 429.8,201.1 430.2,199.2 C430.6,197.3 431.0,195.4 431.7,193.7 C432.4,191.9 434.1,189.7 434.6,188.9 M434.6,188.9 C435.3,188.3 437.4,186.3 439.2,185.3 C440.9,184.3 443.1,183.7 445.3,183.1 C447.4,182.4 449.7,182.1 451.8,181.6 C453.9,181.1 456.0,180.7 457.7,179.9 C459.4,179.2 460.9,178.3 462.1,177.1 C463.2,175.8 464.2,174.5 464.8,172.6 C465.4,170.7 465.3,168.1 465.7,165.8 C466.1,163.5 466.4,161.1 467.0,159.0 C467.7,156.8 468.5,154.8 469.5,153.1 C470.5,151.3 471.6,149.6 473.2,148.5 C474.7,147.5 477.8,147.1 478.7,146.8 M478.7,146.8 C479.7,146.7 482.7,146.2 484.7,146.0 C486.6,145.7 488.6,145.7 490.6,145.5 C492.5,145.2 494.4,145.1 496.1,144.6 C497.9,144.2 499.4,143.4 501.1,142.7 C502.7,142.0 504.4,141.4 506.0,140.7 C507.6,139.9 510.0,138.6 510.8,138.2 M510.8,138.2 C511.6,137.7 513.9,136.0 515.5,135.0 C517.1,134.0 518.7,133.1 520.4,132.1 C522.0,131.1 523.6,129.9 525.4,129.0 C527.1,128.2 528.8,127.3 530.6,126.8 C532.5,126.4 534.3,126.2 536.2,126.3 C538.1,126.3 540.0,126.8 541.9,127.3 C543.8,127.7 545.7,128.5 547.5,129.0 C549.4,129.5 551.2,130.1 553.0,130.3 C554.8,130.5 556.6,130.5 558.4,130.4 C560.2,130.2 562.1,129.7 563.9,129.4 C565.8,129.1 567.7,128.6 569.5,128.5 C571.4,128.4 573.3,128.3 575.1,128.7 C576.9,129.0 578.7,129.7 580.4,130.5 C582.1,131.3 583.7,132.5 585.3,133.6 C586.9,134.6 588.4,135.9 590.0,136.9 C591.6,137.9 594.0,139.1 594.7,139.5 M594.7,139.5 C595.6,139.8 598.1,140.6 599.9,141.0 C601.6,141.4 603.5,141.5 605.3,141.7 C607.2,141.9 609.1,142.0 610.9,142.3 C612.8,142.6 614.7,143.0 616.5,143.4 C618.3,143.9 620.0,144.7 621.7,145.2 C623.5,145.8 625.4,146.4 627.2,146.9 C629.0,147.5 631.9,148.3 632.8,148.6 M632.8,148.6 C633.7,149.0 636.5,149.9 638.0,151.0 C639.5,152.2 640.6,153.8 641.7,155.5 C642.8,157.1 643.6,159.1 644.4,161.0 C645.2,162.9 645.8,164.9 646.7,166.7 C647.5,168.5 648.2,170.2 649.3,171.7 C650.4,173.2 651.6,174.4 653.1,175.5 C654.6,176.6 656.4,177.3 658.3,178.1 C660.2,178.9 662.4,179.4 664.4,180.2 C666.4,181.0 668.5,181.7 670.2,182.8 C671.9,183.9 673.4,185.2 674.5,186.8 C675.6,188.4 676.3,191.3 676.7,192.2 M676.7,192.2 C676.8,193.2 677.1,196.4 677.1,198.5 C677.2,200.6 676.9,202.8 676.9,204.9 C677.0,206.9 677.0,208.8 677.3,210.7 C677.6,212.5 678.1,214.2 678.7,215.9 C679.3,217.6 680.2,219.2 680.9,220.8 C681.7,222.4 682.7,224.0 683.5,225.6 C684.2,227.2 685.3,229.7 685.7,230.6 M685.7,230.6 C686.0,231.4 687.0,234.0 687.6,235.7 C688.3,237.4 688.8,239.1 689.4,240.9 C689.9,242.6 690.4,244.4 690.9,246.2 C691.4,247.9 692.1,249.7 692.4,251.5 C692.8,253.3 693.1,255.1 693.2,257.0 C693.2,258.8 693.1,260.7 692.9,262.5 C692.7,264.3 692.2,267.1 692.1,268.0 M673.4,370.8 C672.3,371.2 669.0,372.4 666.8,373.2 C664.6,374.0 662.4,374.6 660.5,375.5 C658.5,376.3 656.8,377.3 655.2,378.5 C653.6,379.7 652.3,381.2 650.9,382.6 C649.5,384.0 648.2,385.6 646.8,386.9 C645.3,388.3 643.8,389.6 642.1,390.6 C640.4,391.6 638.5,392.4 636.6,393.1 C634.7,393.7 632.5,394.1 630.5,394.5 C628.6,395.0 626.4,395.2 624.6,395.9 C622.8,396.6 621.2,397.6 619.7,398.9 C618.2,400.2 616.9,401.9 615.5,403.5 C614.1,405.1 612.8,407.1 611.3,408.7 C609.8,410.3 608.3,412.0 606.5,413.1 C604.8,414.1 602.8,414.8 600.8,415.0 C598.7,415.2 595.3,414.3 594.2,414.2 M594.2,414.2 C593.1,413.8 589.7,412.7 587.6,412.1 C585.4,411.4 583.3,410.5 581.3,410.4 C579.3,410.2 577.5,410.6 575.7,411.1 C573.8,411.6 572.1,412.6 570.2,413.6 C568.4,414.5 566.6,415.8 564.7,416.8 C562.8,417.7 560.9,418.7 558.9,419.2 C557.0,419.7 555.0,419.8 553.0,419.7 C551.0,419.6 549.0,418.9 547.1,418.4 C545.1,417.8 543.2,416.9 541.3,416.4 C539.4,415.8 537.5,415.3 535.6,415.0 C533.7,414.8 531.7,414.9 529.7,415.1 C527.7,415.2 525.6,415.7 523.6,415.9 C521.5,416.1 519.4,416.5 517.4,416.5 C515.3,416.4 513.3,416.1 511.4,415.5 C509.5,414.8 507.8,413.6 506.1,412.4 C504.4,411.2 502.1,408.9 501.3,408.2 M501.3,408.2 C500.5,407.6 498.1,405.5 496.5,404.4 C494.8,403.3 493.2,402.4 491.3,401.8 C489.5,401.1 487.5,400.9 485.4,400.6 C483.4,400.2 481.3,400.1 479.3,399.6 C477.3,399.1 475.3,398.6 473.5,397.7 C471.7,396.8 470.0,395.8 468.5,394.4 C467.0,393.1 465.8,391.4 464.6,389.7 C463.4,388.0 462.4,386.1 461.2,384.4 C460.1,382.7 459.1,380.9 457.7,379.6 C456.3,378.2 454.6,377.3 452.8,376.4 C451.0,375.4 449.0,374.8 447.0,374.0 C445.1,373.1 443.0,372.4 441.3,371.3 C439.5,370.2 437.8,369.0 436.6,367.4 C435.3,365.9 434.4,364.0 433.6,362.1 C432.9,360.2 432.4,356.9 432.2,355.8 M432.2,355.8 C432.0,354.8 431.5,351.5 431.0,349.5 C430.4,347.6 429.8,345.8 428.7,344.1 C427.7,342.5 426.2,341.2 424.6,339.9 C423.0,338.6 420.9,337.5 419.0,336.3 C417.1,335.0 415.0,333.8 413.3,332.4 C411.6,331.0 409.8,329.5 408.8,327.7 C407.7,326.0 407.2,322.9 406.8,321.9 M406.8,321.9 C406.8,320.9 406.8,317.6 406.9,315.5 C406.9,313.3 407.3,311.2 407.4,309.1 C407.4,307.0 407.3,305.0 407.0,303.0 C406.8,301.1 406.2,299.2 405.7,297.3 C405.2,295.4 404.5,293.5 404.1,291.6 C403.7,289.7 403.3,287.7 403.3,285.7 C403.3,283.7 403.6,281.7 404.0,279.7 C404.5,277.7 405.3,275.7 406.0,273.8 C406.6,271.8 407.4,269.9 407.8,268.0 C408.3,266.1 408.5,264.2 408.4,262.3 C408.3,260.4 407.7,258.5 407.1,256.5 C406.4,254.5 405.3,252.5 404.5,250.4 C403.6,248.4 402.6,246.2 402.2,244.1 C401.8,242.0 401.6,239.9 401.9,237.9 C402.2,236.0 403.0,234.0 404.1,232.3 C405.2,230.5 407.7,228.1 408.4,227.2 M437.9,177.3 C438.4,176.4 439.7,173.8 440.6,172.0 C441.6,170.3 442.5,168.5 443.7,167.0 C444.9,165.4 446.3,164.0 447.9,162.9 C449.5,161.8 451.7,161.2 453.5,160.4 C455.3,159.5 457.1,158.7 458.9,157.8 C460.7,157.0 462.7,156.5 464.3,155.5 C466.0,154.6 467.5,153.6 468.8,152.2 C470.1,150.7 471.0,148.7 472.1,147.0 C473.3,145.3 474.6,143.7 475.8,142.1 C477.1,140.4 478.3,138.6 479.7,137.2 C481.2,135.7 482.8,134.5 484.5,133.5 C486.2,132.6 488.2,132.1 490.1,131.5 C492.0,130.9 493.9,130.3 495.8,129.8 C497.7,129.3 499.7,129.1 501.6,128.6 C503.4,128.0 505.3,127.4 507.0,126.5 C508.8,125.6 510.4,124.3 512.2,123.3 C513.9,122.3 516.7,121.0 517.6,120.5 M517.6,120.5 C518.5,120.2 521.3,118.8 523.2,118.4 C525.2,117.9 527.2,117.8 529.2,117.9 C531.2,117.9 533.3,118.5 535.4,118.9 C537.4,119.4 539.4,120.2 541.4,120.6 C543.4,121.1 545.3,121.5 547.2,121.6 C549.2,121.6 551.1,121.4 553.0,120.9 C554.9,120.5 556.9,119.6 558.9,118.9 C560.8,118.3 562.9,117.3 564.9,116.9 C566.9,116.4 569.0,116.1 571.0,116.2 C573.0,116.4 574.9,116.9 576.8,117.7 C578.7,118.5 580.5,119.7 582.3,120.8 C584.1,121.9 585.7,123.3 587.5,124.3 C589.2,125.3 591.0,126.3 592.8,126.9 C594.6,127.5 596.5,127.7 598.5,128.0 C600.5,128.2 602.5,128.1 604.6,128.2 C606.6,128.4 608.7,128.4 610.6,128.9 C612.5,129.4 615.1,130.8 616.1,131.2 M616.1,131.2 C616.8,131.9 619.2,133.8 620.6,135.2 C622.1,136.7 623.2,138.7 624.6,140.1 C626.0,141.5 627.4,142.9 629.2,143.7 C630.9,144.6 632.9,145.0 635.0,145.3 C637.1,145.6 639.7,145.3 642.0,145.5 C644.2,145.8 646.6,146.1 648.7,146.6 C650.8,147.2 652.9,147.9 654.7,149.0 C656.4,150.0 658.0,151.4 659.3,153.0 C660.6,154.6 661.5,156.6 662.4,158.6 C663.3,160.5 663.8,162.8 664.6,164.8 C665.3,166.9 666.0,168.9 666.9,170.7 C667.8,172.5 668.9,174.1 670.1,175.7 C671.3,177.2 673.6,179.2 674.3,179.9 M674.3,179.9 C675.0,180.6 677.2,182.6 678.5,184.1 C679.8,185.6 681.0,187.2 681.9,189.0 C682.8,190.7 683.5,192.7 684.0,194.6 C684.6,196.6 684.8,198.7 685.2,200.6 C685.7,202.6 686.0,204.5 686.7,206.3 C687.4,208.2 688.3,209.8 689.5,211.5 C690.6,213.1 692.1,214.6 693.6,216.1 C695.0,217.7 696.8,219.2 698.1,220.9 C699.4,222.5 700.8,224.2 701.5,226.1 C702.3,228.0 702.6,230.0 702.6,232.1 C702.5,234.2 701.9,236.4 701.2,238.5 C700.5,240.7 699.3,242.9 698.5,245.0 C697.8,247.0 697.0,249.0 696.6,251.0 C696.3,253.0 696.6,255.7 696.6,256.7 M696.6,256.7 C697.0,257.6 697.8,260.4 698.7,262.3 C699.5,264.2 701.2,267.0 701.7,268.0 M715.7,268.0 C715.3,269.0 714.2,272.2 713.3,274.3 C712.3,276.4 710.8,278.3 709.9,280.3 C709.0,282.4 708.1,284.3 707.7,286.3 C707.4,288.3 707.5,290.4 707.9,292.5 C708.2,294.7 709.1,296.9 709.7,299.2 C710.3,301.4 711.0,304.9 711.3,306.0 M711.3,306.0 C711.2,307.1 711.4,310.5 711.0,312.6 C710.5,314.7 709.6,316.6 708.7,318.6 C707.9,320.6 706.7,322.4 705.9,324.4 C705.1,326.4 704.4,328.4 703.8,330.5 C703.3,332.6 703.1,334.8 702.5,336.9 C702.0,339.1 701.6,341.3 700.8,343.3 C699.9,345.3 698.7,347.1 697.2,348.8 C695.8,350.4 693.0,352.5 692.1,353.3 M692.1,353.3 C691.2,353.9 688.2,355.8 686.6,357.3 C685.0,358.7 683.5,360.2 682.4,362.0 C681.3,363.8 680.8,366.0 680.1,368.2 C679.4,370.3 679.0,372.8 678.2,374.9 C677.4,377.1 676.5,379.2 675.3,381.1 C674.1,382.9 672.5,384.5 670.8,385.8 C669.1,387.2 667.0,388.2 665.1,389.3 C663.2,390.4 661.1,391.3 659.3,392.4 C657.4,393.6 655.0,395.6 654.1,396.2 M400.6,331.1 C400.2,330.1 398.8,327.2 398.5,325.0 C398.2,322.8 398.5,320.4 398.6,318.2 C398.7,315.9 399.1,313.6 399.0,311.4 C398.9,309.3 398.5,307.3 397.9,305.2 C397.3,303.2 396.1,301.4 395.2,299.4 C394.4,297.4 393.2,295.5 392.5,293.4 C391.9,291.4 391.5,289.2 391.5,287.1 C391.5,285.0 392.1,282.8 392.6,280.6 C393.1,278.5 394.1,276.3 394.6,274.2 C395.1,272.1 395.6,270.1 395.6,268.0 C395.7,265.9 395.0,262.8 394.9,261.8 M394.9,261.8 C394.7,260.7 393.8,257.6 393.5,255.4 C393.2,253.3 392.9,251.2 393.2,249.1 C393.4,247.0 394.2,245.0 395.1,243.0 C396.0,241.0 397.4,239.2 398.4,237.2 C399.4,235.3 400.6,233.5 401.2,231.6 C401.9,229.6 402.2,227.6 402.4,225.5 C402.5,223.4 402.1,221.2 402.1,219.0 C402.0,216.8 401.8,214.4 402.1,212.3 C402.3,210.2 402.9,208.1 403.8,206.2 C404.7,204.3 406.8,201.8 407.4,200.9 M559.4,105.4 C560.4,105.6 563.6,106.1 565.7,106.9 C567.7,107.8 569.7,109.3 571.6,110.5 C573.6,111.7 575.4,113.3 577.4,114.2 C579.3,115.2 581.2,115.9 583.2,116.2 C585.2,116.5 587.3,116.1 589.5,115.9 C591.7,115.6 594.0,114.9 596.2,114.7 C598.5,114.5 600.7,114.3 602.8,114.6 C605.0,114.9 607.0,115.7 608.9,116.6 C610.8,117.5 613.4,119.4 614.3,120.0 M688.5,177.5 C689.2,178.3 691.5,180.6 692.7,182.4 C693.9,184.2 695.0,186.0 695.6,188.1 C696.2,190.2 696.4,192.6 696.5,194.9 C696.5,197.2 696.1,199.7 696.1,202.0 C696.1,204.3 695.9,206.6 696.3,208.6 C696.7,210.7 697.5,212.5 698.6,214.3 C699.7,216.1 701.4,217.6 702.9,219.3 C704.4,221.0 706.2,222.6 707.5,224.4 C708.7,226.3 710.0,229.2 710.5,230.2 M710.5,230.2 C710.6,231.2 711.3,234.4 711.4,236.5 C711.6,238.6 711.2,240.8 711.4,242.9 C711.5,245.0 711.8,247.1 712.2,249.2 C712.7,251.2 713.5,253.2 714.1,255.3 C714.7,257.4 715.5,259.5 715.8,261.6 C716.0,263.7 715.7,266.9 715.7,268.0 M713.9,327.3 C713.6,328.5 712.8,331.7 712.4,334.0 C712.1,336.3 712.1,338.8 711.7,341.2 C711.3,343.5 711.0,345.9 710.2,348.1 C709.3,350.2 708.1,352.2 706.7,354.1 C705.2,355.9 703.3,357.4 701.4,358.9 C699.5,360.5 697.3,361.7 695.5,363.2 C693.6,364.7 691.8,366.1 690.5,367.9 C689.1,369.7 688.3,371.8 687.4,373.9 C686.4,376.1 685.8,378.5 685.0,380.8 C684.2,383.1 683.5,385.5 682.6,387.8 C681.6,390.0 680.5,392.2 679.2,394.2 C677.8,396.1 675.2,398.5 674.5,399.4 M674.5,399.4 C673.5,400.1 670.7,402.2 668.7,403.4 C666.6,404.6 664.4,405.6 662.2,406.5 C660.0,407.4 657.7,408.2 655.4,408.9 C653.0,409.6 650.7,410.1 648.3,410.6 C645.9,411.1 643.5,411.4 641.2,411.9 C638.8,412.3 636.4,412.5 634.3,413.2 C632.2,413.9 630.3,414.8 628.5,416.1 C626.6,417.3 625.0,419.0 623.3,420.6 C621.6,422.2 620.1,424.1 618.3,425.6 C616.5,427.2 614.8,428.9 612.8,430.0 C610.8,431.1 608.6,431.8 606.3,432.1 C604.1,432.4 601.6,432.0 599.2,431.9 C596.9,431.7 593.4,431.3 592.2,431.2 M479.8,426.7 C478.9,426.0 476.1,424.0 474.3,422.4 C472.5,420.9 471.0,419.1 469.3,417.5 C467.6,415.9 466.0,414.3 464.1,413.0 C462.3,411.7 460.3,410.8 458.3,409.7 C456.3,408.7 454.1,407.9 452.2,406.8 C450.3,405.6 448.3,404.4 446.7,402.8 C445.2,401.2 443.9,399.1 442.7,397.1 C441.5,395.1 440.5,392.9 439.5,390.8 C438.4,388.7 437.6,386.5 436.3,384.7 C435.1,382.8 433.8,381.1 432.1,379.7 C430.4,378.4 428.3,377.4 426.1,376.4 C423.9,375.3 421.3,374.7 418.9,373.7 C416.5,372.7 414.0,371.8 411.8,370.6 C409.7,369.3 407.7,367.8 406.1,366.1 C404.5,364.4 402.9,361.4 402.2,360.4 M379.9,247.5 C380.3,246.4 381.2,243.1 382.3,241.0 C383.4,238.9 385.2,236.9 386.8,234.9 C388.3,233.0 390.2,231.2 391.6,229.3 C393.0,227.4 394.4,225.5 395.3,223.5 C396.2,221.5 396.7,219.5 397.1,217.4 C397.5,215.2 397.5,211.8 397.6,210.7 M397.6,210.7 C397.6,209.5 397.6,206.0 397.8,203.7 C397.9,201.4 398.1,199.0 398.4,196.7 C398.7,194.4 399.2,192.1 399.7,189.9 C400.3,187.7 400.8,185.4 401.7,183.3 C402.7,181.2 403.8,179.2 405.1,177.4 C406.5,175.6 408.1,173.9 409.9,172.4 C411.7,170.9 413.7,169.6 415.8,168.3 C417.8,167.1 420.1,166.1 422.2,164.9 C424.3,163.7 426.4,162.7 428.2,161.4 C430.0,160.1 432.2,157.8 433.0,157.1 M433.0,157.1 C433.7,156.3 435.7,153.7 437.0,152.0 C438.3,150.3 439.6,148.5 440.8,146.6 C442.1,144.8 443.0,142.5 444.4,140.8 C445.8,139.2 447.6,137.8 449.4,136.6 C451.2,135.4 453.3,134.5 455.2,133.4 C457.1,132.3 458.8,131.0 460.7,129.9 C462.5,128.7 464.6,127.9 466.3,126.6 C468.0,125.2 469.5,123.4 471.0,121.7 C472.6,119.9 474.0,117.9 475.6,116.1 C477.2,114.3 479.8,111.9 480.7,111.1 M480.7,111.1 C481.6,110.4 484.2,107.8 486.2,106.8 C488.2,105.7 490.5,105.1 492.7,104.6 C494.9,104.1 497.3,103.9 499.6,103.6 C501.9,103.4 504.1,103.0 506.5,103.0 C508.8,102.9 511.1,103.1 513.4,103.1 C515.7,103.1 517.9,103.1 520.2,102.9 C522.4,102.8 524.6,102.7 526.8,102.4 C529.0,102.1 531.1,101.8 533.3,101.3 C535.4,100.8 537.6,100.1 539.7,99.4 C541.9,98.6 544.1,97.7 546.3,97.0 C548.5,96.3 550.7,95.5 553.0,95.1 C555.3,94.7 557.6,94.6 559.8,94.8 C562.1,95.0 564.3,95.6 566.5,96.3 C568.7,97.1 570.9,98.2 573.0,99.0 C575.2,99.8 578.3,100.9 579.4,101.2 M579.4,101.2 C580.5,101.3 583.8,101.9 586.0,101.9 C588.3,101.9 590.7,101.5 593.0,101.4 C595.3,101.2 597.8,100.9 600.0,101.2 C602.3,101.5 604.6,102.0 606.6,103.1 C608.6,104.1 610.5,105.7 612.2,107.4 C614.0,109.1 615.5,111.4 617.1,113.3 C618.7,115.2 620.1,117.2 621.8,118.8 C623.5,120.3 626.2,121.9 627.1,122.6 M627.1,122.6 C628.1,122.9 631.1,124.1 633.4,124.5 C635.7,124.8 638.3,124.6 640.9,124.5 C643.5,124.5 646.4,124.1 649.1,124.2 C651.8,124.2 654.6,124.3 656.9,124.9 C659.3,125.6 661.3,126.9 663.2,128.2 C665.2,129.4 666.9,131.0 668.6,132.6 C670.3,134.2 671.9,136.0 673.3,137.8 C674.8,139.7 676.1,141.7 677.3,143.7 C678.4,145.8 679.8,149.2 680.3,150.3 M680.3,150.3 C680.7,151.4 682.0,154.9 683.0,157.0 C683.9,159.1 684.9,161.2 686.1,163.1 C687.3,165.0 688.7,166.6 690.3,168.3 C691.8,169.9 693.6,171.3 695.2,173.0 C696.9,174.6 698.6,176.1 700.0,177.9 C701.3,179.8 702.4,181.7 703.2,183.9 C704.0,186.0 704.4,188.4 704.8,190.7 C705.2,193.0 705.2,195.4 705.7,197.6 C706.1,199.9 706.5,202.0 707.4,204.1 C708.2,206.1 710.4,208.8 710.9,209.7 M613.1,191.8 Q621.1,188.9 627.4,187.5 M515.6,358.4 Q519.4,363.4 519.4,371.4 M705.1,280.0 Q707.3,290.9 709.7,299.2 M488.1,350.3 Q486.6,358.5 481.7,366.1 M594.7,139.5 Q602.6,131.8 604.6,128.2 M453.6,394.1 Q458.3,405.9 464.1,413.0 M588.1,392.4 Q589.1,397.8 590.7,401.8 M477.9,213.4 Q473.3,209.4 467.9,200.9 M402.4,225.5 Q397.8,227.4 395.3,223.5 M588.2,363.5 Q591.0,362.7 596.9,363.2 M452.7,271.9 Q452.7,272.6 447.0,268.0 M667.4,286.1 Q674.9,281.9 682.3,283.3 M636.7,184.3 Q643.0,179.5 646.1,174.9 M500.0,347.4 Q493.6,348.4 482.8,350.2 M537.5,365.8 Q533.5,372.6 531.5,375.9 M553.0,164.9 Q551.4,160.0 543.7,150.4 M510.8,138.2 Q509.4,133.5 507.0,126.5 M459.6,396.6 Q456.0,400.4 452.2,406.8 M670.1,175.7 Q677.3,176.7 688.5,177.5 M433.7,347.7 Q433.9,354.5 432.2,355.8 M711.4,242.9 Q716.6,232.8 724.1,226.9 M627.2,146.9 Q626.3,141.7 624.6,140.1 M610.2,392.1 Q607.8,399.7 611.3,408.7 M680.7,326.9 Q684.8,331.1 684.0,334.7 M600.0,395.3 Q600.8,402.2 606.5,413.1 M536.2,126.3 Q538.3,124.4 535.4,118.9 M437.0,327.1 Q433.3,333.0 430.0,343.4 M558.0,140.1 Q559.9,132.9 563.9,129.4 M687.5,305.9 Q691.8,306.3 700.5,303.4 M644.4,301.7 Q651.3,297.3 662.2,298.8 M439.8,259.1 Q434.0,254.5 430.0,248.5 M578.8,176.4 Q585.4,172.7 591.1,164.8 M438.0,351.5 Q431.6,348.0 428.7,344.1 M679.2,293.1 Q686.7,296.4 692.6,295.8 M553.0,407.6 Q548.3,413.8 547.1,418.4 M468.5,394.4 Q462.3,395.8 459.6,396.6 M585.7,404.2 Q595.7,410.4 600.8,415.0 M525.5,382.6 Q527.4,390.4 528.0,393.6 M495.0,354.8 Q487.9,359.5 474.8,359.5 M472.0,342.8 Q473.8,347.3 472.9,354.7 M518.1,173.3 Q525.3,167.4 527.3,161.0 M600.8,415.0 Q606.4,415.4 613.3,413.5 M611.4,348.4 Q618.8,349.7 625.5,352.9 M411.6,196.0 Q405.8,204.1 397.6,210.7 M589.7,154.9 Q598.0,153.8 602.2,149.1 M614.1,377.1 Q622.9,380.8 637.2,383.9 M674.5,186.8 Q674.4,183.6 678.5,184.1 M536.1,374.4 Q526.4,377.0 520.8,382.1 M642.1,390.6 Q640.4,400.1 644.0,404.2 M649.1,356.8 Q643.8,364.7 643.5,373.9 M607.1,150.6 Q605.8,146.8 605.3,141.7 M646.4,306.7 Q644.9,313.1 647.0,320.6 M453.8,207.2 Q451.8,205.1 444.7,201.6 M595.7,175.4 Q598.8,179.4 607.8,178.6 M454.2,142.7 Q455.3,138.1 455.2,133.4 M449.7,331.3 Q450.7,336.6 446.8,339.0 M553.0,426.7 Q545.8,427.7 533.5,433.0 M630.4,169.8 Q635.8,169.9 642.8,170.8 M486.0,183.1 Q481.3,180.2 473.9,182.4 M432.5,282.3 Q427.5,284.9 427.4,282.9 M698.7,262.3 Q703.4,255.3 711.4,242.9 M404.1,291.6 Q398.0,294.9 395.2,299.4 M617.7,179.0 Q612.6,176.7 608.8,168.4 M473.5,397.7 Q464.3,396.5 459.6,396.6 M692.6,295.8 Q699.5,289.3 705.1,280.0 M520.9,154.1 Q519.6,151.0 518.2,144.8 M434.5,181.9 Q422.3,184.8 414.9,190.6 M636.7,184.3 Q642.8,184.7 648.9,179.4 M633.5,388.5 Q628.7,393.1 624.6,395.9 M683.5,225.6 Q694.6,226.1 702.6,232.1 M470.5,197.5 Q470.4,197.1 464.6,192.5 M690.9,246.2 Q691.1,251.2 696.6,251.0 M426.9,309.0 Q422.5,306.2 419.4,305.7 M419.4,305.7 Q414.3,307.7 407.4,309.1 M438.8,290.7 Q429.9,298.3 426.9,309.0 M553.0,366.8 Q554.5,370.5 553.0,375.5 M473.9,182.4 Q466.2,185.8 457.6,186.5 M646.7,348.0 Q647.8,356.8 644.0,366.5 M449.7,343.0 Q436.9,340.9 427.2,338.5 M546.7,107.2 Q542.8,106.2 533.3,101.3 M610.2,392.1 Q621.1,393.1 630.5,394.5 M647.0,320.6 Q653.5,319.3 659.8,322.4 M577.6,391.8 Q573.0,399.6 569.3,406.1 M686.7,206.3 Q692.2,212.0 698.6,214.3 M580.3,405.2 Q585.3,407.1 587.6,412.1 M582.7,176.5 Q584.0,171.8 581.9,165.5 M440.9,314.4 Q438.0,320.1 433.7,323.0 M693.6,216.1 Q695.6,210.6 696.1,202.0 M468.9,334.3 Q465.7,338.6 456.7,337.9 M692.6,325.8 Q694.1,333.2 700.8,343.3"/>
<path fill="none" stroke="#b9c6d4" stroke-width="2.5" d="M393.8,200.0 C397.0,190.7 398.7,187.3 402.8,181.2 C406.9,175.1 412.5,169.2 418.5,163.2 C424.5,157.2 432.3,152.0 438.7,145.3 C445.1,138.6 449.8,128.1 456.7,122.8 C463.6,117.5 472.0,117.8 480.0,113.8 C488.0,109.8 487.7,101.8 504.6,99.0 C521.5,96.2 558.9,93.7 581.5,97.0 C604.1,100.3 627.1,114.3 640.0,119.0 C652.9,123.7 652.6,121.0 659.0,125.0 C665.4,129.0 670.2,132.3 678.5,143.0 C686.8,153.7 700.9,172.6 708.5,189.0 C716.1,205.4 721.0,224.3 724.0,241.5 C727.0,258.7 727.2,278.1 726.5,292.0 C725.8,305.9 722.5,314.8 719.5,325.0 C716.5,335.2 713.0,343.5 708.5,353.0 C704.0,362.5 700.0,373.1 692.8,381.8 C685.5,390.5 674.6,398.6 665.0,405.0 C655.4,411.4 644.6,415.2 635.4,420.0 C626.2,424.8 618.1,430.9 610.0,433.8 C601.9,436.7 596.6,435.9 587.0,437.3 C577.4,438.7 562.3,441.4 552.3,442.0 C542.3,442.6 536.4,442.4 527.0,440.8 C517.6,439.2 505.2,435.1 495.7,432.2 C486.2,429.3 479.2,429.1 470.0,423.5 C460.8,417.9 448.9,405.9 440.4,398.5 C431.9,391.1 425.3,385.6 419.2,379.2 C413.1,372.8 409.0,367.6 403.8,360.0 C398.6,352.4 391.4,341.2 388.0,333.5 C384.6,325.8 384.9,323.8 383.5,314.0 C382.1,304.2 379.6,287.8 379.6,275.0 C379.6,262.2 381.1,249.5 383.5,237.0 C385.9,224.5 390.6,209.3 393.8,200.0 Z"/>
<g filter="url(#rough)"><path fill="#7c70b2" d="M535.0,177.0 C546.2,175.8 558.8,176.0 570.0,179.0 C581.2,182.0 593.7,187.7 602.0,195.0 C610.3,202.3 616.7,214.3 620.0,223.0 C623.3,231.7 622.7,237.3 622.0,247.0 C621.3,256.7 618.0,273.3 616.0,281.0 C614.0,288.7 613.8,287.2 610.0,293.0 C606.2,298.8 601.2,310.3 593.0,316.0 C584.8,321.7 572.0,324.8 561.0,327.0 C550.0,329.2 540.0,330.8 527.0,329.0 C514.0,327.2 494.2,322.5 483.0,316.0 C471.8,309.5 465.0,300.2 460.0,290.0 C455.0,279.8 453.2,264.7 453.0,255.0 C452.8,245.3 454.5,241.2 459.0,232.0 C463.5,222.8 472.7,207.7 480.0,200.0 C487.3,192.3 493.8,189.8 503.0,186.0 C512.2,182.2 523.8,178.2 535.0,177.0 Z"/><path clip-path="url(#nclip)" fill="#9186c0" opacity="0.28" filter="url(#mottle)" d="M535.0,177.0 C546.2,175.8 558.8,176.0 570.0,179.0 C581.2,182.0 593.7,187.7 602.0,195.0 C610.3,202.3 616.7,214.3 620.0,223.0 C623.3,231.7 622.7,237.3 622.0,247.0 C621.3,256.7 618.0,273.3 616.0,281.0 C614.0,288.7 613.8,287.2 610.0,293.0 C606.2,298.8 601.2,310.3 593.0,316.0 C584.8,321.7 572.0,324.8 561.0,327.0 C550.0,329.2 540.0,330.8 527.0,329.0 C514.0,327.2 494.2,322.5 483.0,316.0 C471.8,309.5 465.0,300.2 460.0,290.0 C455.0,279.8 453.2,264.7 453.0,255.0 C452.8,245.3 454.5,241.2 459.0,232.0 C463.5,222.8 472.7,207.7 480.0,200.0 C487.3,192.3 493.8,189.8 503.0,186.0 C512.2,182.2 523.8,178.2 535.0,177.0 Z"/></g>
<clipPath id="nclip"><path d="M535.0,177.0 C546.2,175.8 558.8,176.0 570.0,179.0 C581.2,182.0 593.7,187.7 602.0,195.0 C610.3,202.3 616.7,214.3 620.0,223.0 C623.3,231.7 622.7,237.3 622.0,247.0 C621.3,256.7 618.0,273.3 616.0,281.0 C614.0,288.7 613.8,287.2 610.0,293.0 C606.2,298.8 601.2,310.3 593.0,316.0 C584.8,321.7 572.0,324.8 561.0,327.0 C550.0,329.2 540.0,330.8 527.0,329.0 C514.0,327.2 494.2,322.5 483.0,316.0 C471.8,309.5 465.0,300.2 460.0,290.0 C455.0,279.8 453.2,264.7 453.0,255.0 C452.8,245.3 454.5,241.2 459.0,232.0 C463.5,222.8 472.7,207.7 480.0,200.0 C487.3,192.3 493.8,189.8 503.0,186.0 C512.2,182.2 523.8,178.2 535.0,177.0 Z"/></clipPath>


<!-- organelles -->
<g><circle cx="618.3" cy="328.5" r="4" fill="#9cca3c"/><circle cx="616.3" cy="335.2" r="4" fill="#9cca3c"/><circle cx="613.5" cy="342" r="4" fill="#9cca3c"/><circle cx="610.6" cy="348.7" r="4" fill="#9cca3c"/><circle cx="609.6" cy="355.4" r="4" fill="#9cca3c"/><circle cx="605.8" cy="360.2" r="4" fill="#9cca3c"/><circle cx="602" cy="364" r="4" fill="#9cca3c"/><circle cx="596" cy="366" r="4" fill="#9cca3c"/><circle cx="585.6" cy="343.8" r="4" fill="#9cca3c"/><circle cx="589.4" cy="350.6" r="4" fill="#9cca3c"/><circle cx="597.1" cy="353.5" r="4" fill="#9cca3c"/><circle cx="602.9" cy="349.6" r="4" fill="#9cca3c"/><circle cx="600" cy="330.4" r="4" fill="#9cca3c"/><circle cx="598" cy="336.2" r="4" fill="#9cca3c"/><circle cx="602.9" cy="342" r="4" fill="#9cca3c"/><circle cx="617.5" cy="327.7" r="2" fill="#b8dc5a"/><circle cx="615.5" cy="334.4" r="2" fill="#b8dc5a"/><circle cx="612.7" cy="341.2" r="2" fill="#b8dc5a"/><circle cx="609.8000000000001" cy="347.9" r="2" fill="#b8dc5a"/><circle cx="608.8000000000001" cy="354.59999999999997" r="2" fill="#b8dc5a"/><circle cx="605.0" cy="359.4" r="2" fill="#b8dc5a"/><circle cx="601.2" cy="363.2" r="2" fill="#b8dc5a"/><circle cx="595.2" cy="365.2" r="2" fill="#b8dc5a"/><circle cx="584.8000000000001" cy="343.0" r="2" fill="#b8dc5a"/><circle cx="588.6" cy="349.8" r="2" fill="#b8dc5a"/><circle cx="596.3000000000001" cy="352.7" r="2" fill="#b8dc5a"/><circle cx="602.1" cy="348.8" r="2" fill="#b8dc5a"/><circle cx="599.2" cy="329.59999999999997" r="2" fill="#b8dc5a"/><circle cx="597.2" cy="335.4" r="2" fill="#b8dc5a"/><circle cx="602.1" cy="341.2" r="2" fill="#b8dc5a"/></g>
<g fill="none" stroke="#f3a632" stroke-width="2.8" stroke-linecap="round"><path d="M661.5,311.2 Q664.2,302.3 658.7,294.8"/><path d="M661.5,311.2 Q671.1,308.8 675,299.6"/><path d="M661.5,311.2 Q671.4,314.3 679.8,308.3"/><path d="M661.5,311.2 Q664.9,318.9 673,320.8"/><path d="M661.5,311.2 Q656.7,318.4 659.6,326.5"/><path d="M661.5,311.2 Q653.6,312.6 650,319.8"/><path d="M661.5,311.2 Q652.9,306.9 644.2,311.2"/><path d="M661.5,311.2 Q658.7,303.7 651,301.5"/></g>
<path d="M687.2,343.6 L697.8,331.4 L712.2,332.8 L702.6,345 Z" fill="url(#dia)" stroke="#c8386a" stroke-width="0.8"/><path d="M697.3,332.2 L702.3,344.2 M699.5,332 L704.5,344" stroke="#c03060" stroke-width="0.9" stroke-dasharray="1.2,0.8"/>
<polygon points="669.2,350.3 670.8,354.1 674.9,354.4 671.8,357.1 672.7,361.2 669.2,359.0 665.7,361.2 666.6,357.1 663.5,354.4 667.6,354.1" fill="#f7cf4a" stroke="#e8962a" stroke-width="0.9" stroke-linejoin="round"/><polygon points="670.2,361.0 671.8,364.8 675.9,365.1 672.8,367.8 673.7,371.9 670.2,369.7 666.7,371.9 667.6,367.8 664.5,365.1 668.6,364.8" fill="#f7cf4a" stroke="#e8962a" stroke-width="0.9" stroke-linejoin="round"/><polygon points="679.8,362.0 681.4,365.8 685.5,366.1 682.4,368.8 683.3,372.9 679.8,370.7 676.3,372.9 677.2,368.8 674.1,366.1 678.2,365.8" fill="#f7cf4a" stroke="#e8962a" stroke-width="0.9" stroke-linejoin="round"/><polygon points="665.4,369.6 667.0,373.4 671.1,373.7 668.0,376.4 668.9,380.5 665.4,378.3 661.9,380.5 662.8,376.4 659.7,373.7 663.8,373.4" fill="#f7cf4a" stroke="#e8962a" stroke-width="0.9" stroke-linejoin="round"/>
<g stroke="#7aa62a" stroke-width="0.6">
<path d="M612.5,380 L625.6,380 L619.5,390.5 Z" fill="url(#gdn)"/>
<path d="M625.6,382.8 L634,392.1 L621.8,392.1 Z" fill="url(#gup)"/>
<path d="M607,391.2 L619.9,391.2 L615.4,400.8 Z" fill="url(#gdn)"/>
<path d="M620.5,393.4 L628.2,403.7 L615.7,403.7 Z" fill="url(#gup)"/>
</g>
<polyline points="644,101.5 677,67 718,67" fill="none" stroke="#f3dc12" stroke-width="3"/>

<path fill="#f00a1b" d="M323.5,193.0 C323.9,191.5 325.4,189.5 326.0,184.0 C326.6,178.5 327.3,168.0 327.3,160.0 C327.3,152.0 326.8,144.0 326.0,136.0 C325.2,128.0 324.5,120.0 322.5,112.0 C320.5,104.0 316.6,95.4 314.0,88.0 C311.4,80.6 308.1,71.0 306.9,67.6 L313.4,60.4 L278.0,50.8 L287.6,96.5 L293.7,87.0 C295.3,89.2 300.3,93.8 303.3,100.0 C306.3,106.2 309.1,116.0 311.7,124.0 C314.3,132.0 317.3,140.0 318.9,148.0 C320.5,156.0 320.7,165.0 321.3,172.0 C321.9,179.0 322.1,186.5 322.5,190.0 C322.9,193.5 323.3,192.5 323.5,193.0 Z"/>
<path fill="#f00a1b" d="M194.8,334.3 C201.2,334.3 222.0,335.5 233.2,334.3 C244.4,333.1 253.2,330.2 262.0,327.0 C270.8,323.8 278.8,319.8 286.0,315.0 C293.2,310.2 300.1,303.9 305.3,298.3 C310.5,292.7 314.1,287.1 317.3,281.5 C320.5,275.9 322.7,271.1 324.5,264.7 C326.3,258.3 327.3,248.8 328.1,243.0 C328.9,237.2 329.1,232.0 329.3,229.8 L337.0,228.6 L319.7,201.7 L301.0,233.0 L309.4,232.2 C309.3,235.2 310.0,244.1 308.9,250.3 C307.8,256.5 305.9,263.5 302.9,269.5 C299.9,275.5 295.8,281.1 291.0,286.3 C286.2,291.5 280.8,295.9 274.0,300.7 C267.2,305.5 258.8,310.6 250.0,315.0 C241.2,319.4 230.4,323.8 221.2,327.0 C212.0,330.2 199.2,333.1 194.8,334.3 Z"/>
<path fill="url(#ygrad)" d="M240.2,383.3 C243.0,380.5 250.8,372.3 257.2,366.3 C263.6,360.3 270.6,353.3 278.3,347.3 C286.1,341.3 294.9,335.1 303.7,330.4 C312.5,325.6 321.3,321.6 331.2,318.8 C341.1,316.0 352.4,314.0 363.0,313.5 C373.6,313.0 385.9,314.4 394.7,315.6 C403.5,316.8 410.5,319.3 415.8,320.9 C421.1,322.5 424.6,324.3 426.4,325.0 L433.8,317.3 L447.5,350.5 L407.4,347.3 L413.7,339.9 C409.5,338.3 396.8,332.5 388.3,330.4 C379.9,328.3 372.5,327.4 363.0,327.2 C353.5,327.0 341.1,327.4 331.2,329.3 C321.3,331.2 312.5,334.4 303.7,338.8 C294.9,343.2 286.1,350.2 278.3,355.8 C270.6,361.4 263.6,368.1 257.2,372.7 C250.8,377.3 243.0,381.5 240.2,383.3 Z"/>
<path fill="#e6007f" d="M640.2,341.3 C644.8,339.0 657.8,331.4 667.7,327.5 C677.6,323.6 688.9,320.4 699.5,318.0 C710.1,315.6 720.6,314.0 731.2,313.1 C741.8,312.2 753.4,312.1 762.9,312.7 C772.4,313.3 780.5,314.8 788.3,316.9 C796.1,319.0 803.1,322.2 809.5,325.4 C815.9,328.6 822.2,333.2 826.4,336.0 C830.6,338.8 833.5,341.2 834.9,342.3 L850.7,338.5 L847.5,369.8 L810.5,356.7 L817.9,351.8 C815.8,349.7 810.8,343.2 805.2,339.1 C799.6,335.1 791.2,330.3 784.1,327.5 C777.0,324.7 771.7,323.1 762.9,322.2 C754.1,321.3 741.8,321.9 731.2,322.2 C720.6,322.5 710.1,322.3 699.5,323.8 C688.9,325.3 677.6,328.1 667.7,331.0 C657.8,333.9 644.8,339.6 640.2,341.3 Z"/>

<path fill="url(#icell)" d="M115.1,66.2 C115.9,63.5 118.6,60.2 121.0,59.4 C123.4,58.5 127.2,62.5 129.4,61.1 C131.7,59.7 132.5,52.1 134.5,51.0 C136.5,49.9 137.7,54.9 141.2,54.4 C144.7,53.9 151.8,50.0 155.5,47.7 C159.2,45.5 159.2,42.2 163.1,40.9 C167.0,39.6 175.0,40.6 179.1,40.1 C183.2,39.6 185.1,37.5 187.5,37.6 C189.9,37.8 191.7,37.8 193.4,41.0 C195.1,44.2 195.2,52.7 197.6,56.9 C200.0,61.1 205.2,63.4 207.7,66.2 C210.2,69.0 212.0,71.0 212.7,73.7 C213.4,76.4 210.8,78.3 211.9,82.2 C213.0,86.1 219.7,93.4 219.5,97.3 C219.3,101.2 213.9,102.0 211.0,105.7 C208.1,109.4 204.7,116.5 201.8,119.2 C198.9,121.9 195.4,119.7 193.4,121.7 C191.4,123.7 191.8,131.1 190.0,131.0 C188.2,130.9 186.2,122.3 182.4,120.9 C178.6,119.5 171.8,121.8 167.3,122.5 C162.8,123.2 159.2,123.9 155.5,125.0 C151.8,126.1 147.5,130.3 145.4,129.3 C143.3,128.3 145.3,120.9 142.9,119.2 C140.5,117.5 133.5,120.9 131.1,119.2 C128.7,117.5 130.7,112.7 128.6,109.0 C126.5,105.3 119.6,101.2 118.5,97.3 C117.4,93.4 122.3,89.2 121.9,85.5 C121.5,81.8 117.1,78.6 116.0,75.4 C114.9,72.2 114.3,68.9 115.1,66.2 Z"/>
<ellipse cx="167.3" cy="83.5" rx="19.4" ry="13.5" fill="url(#inuc)"/>


<!-- enzyme -->
<g>
<path fill="#e4184c" d="M56.7,213.5 L59.6,216.3 L71.6,201 L83.7,215.4 L90.4,197.6 L98.1,214.9 L111.5,204.3 L121.6,214.4 L121.4,222 L120.2,226 L111.5,216.8 L97.6,227 L90.4,211.5 L82.7,227.4 L71.6,213.5 L59.6,228.8 L57,222 Z"/>
<path fill="#b90f3a" d="M59.6,216.3 L71.6,201 L71.6,213.5 L59.6,228.8 Z"/>
<path fill="#b90f3a" d="M83.7,215.4 L90.4,197.6 L90.4,211.5 L82.7,227.4 Z"/>
<path fill="#b90f3a" d="M98.1,214.9 L111.5,204.3 L111.5,216.8 L97.6,227 Z"/>
<path fill="#e8698b" d="M56.7,213.5 C54.5,196 70,185 88.5,185 C108,185 123,196 121.6,214.4 L111.5,204.3 L98.1,214.9 L90.4,197.6 L83.7,215.4 L71.6,201 L59.6,216.3 Z"/>
</g>
<!-- antibody -->
<g stroke-linecap="round" fill="none">
<path d="M208.5,181 L219.7,198 L219.7,233.5" stroke="#1c9ee2" stroke-width="5.6"/>
<path d="M241.6,181.2 L229.3,198 L229,233.5" stroke="#1c9ee2" stroke-width="5.6"/>
<path d="M201.8,188 L213,203.7" stroke="#f41426" stroke-width="3.4"/>
<path d="M248.9,188.5 L236.6,204.2" stroke="#f41426" stroke-width="3.4"/>
</g>
<!-- nutrient icons -->
<ellipse cx="289.6" cy="405.2" rx="14.4" ry="18.7" fill="#565656"/>
<ellipse cx="289.6" cy="403.8" rx="8.9" ry="10.8" fill="url(#crys)"/>
<path d="M284,397 L292,395.5 L295.5,401 L291,410 L285,409 L283,403 Z M286,398 L294,407" fill="none" stroke="#ffffff" stroke-opacity="0.75" stroke-width="1.1"/>
<path d="M323,390 C330,390 343,400 343,405 C343,411 330,420 323,420 C318,420 317,414 317,405 C317,396 318,390 323,390 Z" fill="#555"/>
<path d="M323.5,395 L338,405 L323.5,415.3 Z" fill="url(#play)"/>
<ellipse cx="276.7" cy="450.6" rx="15.1" ry="17.3" fill="#4a3f3c"/>
<circle cx="277.4" cy="450" r="11.5" fill="url(#oxy)"/>
<ellipse cx="329.3" cy="450.6" rx="15.9" ry="16.6" fill="#4b4545"/>
<circle cx="327.1" cy="448.5" r="8.7" fill="url(#org)"/>
<path d="M327.5,458.8 Q330.5,452.5 336.6,450.4 Q335.5,457.5 327.5,458.8 Z" fill="#f4f4f4"/>

<text x="35.0" y="158" font-size="25" textLength="261.4" lengthAdjust="spacingAndGlyphs">Inflammatory cell</text>
<text x="28.0" y="268.5" font-size="25" textLength="115.0" lengthAdjust="spacingAndGlyphs">Enzyme</text>
<text x="155.0" y="268.5" font-size="25" textLength="132.6" lengthAdjust="spacingAndGlyphs">Antibody</text>
<text x="107.8" y="411" font-size="25" textLength="142.1" lengthAdjust="spacingAndGlyphs">Nutrients</text>
<text x="108.8" y="456.5" font-size="25" textLength="108.0" lengthAdjust="spacingAndGlyphs">Oxygen</text>
<text x="736.4" y="413.7" font-size="25" textLength="265.8" lengthAdjust="spacingAndGlyphs">Bioactive molecule</text>
<text x="736.4" y="459.4" font-size="25" textLength="164.9" lengthAdjust="spacingAndGlyphs">Metabolites</text>
<text x="736.6" y="74" font-size="25" textLength="272.4" lengthAdjust="spacingAndGlyphs">Encapsulation shell</text>
<text x="290.5" y="587" font-size="40" stroke="#fff" stroke-width="1.3" textLength="559.5" lengthAdjust="spacingAndGlyphs">Single cell nanoencapsulation</text>
</svg>
</body></html>
